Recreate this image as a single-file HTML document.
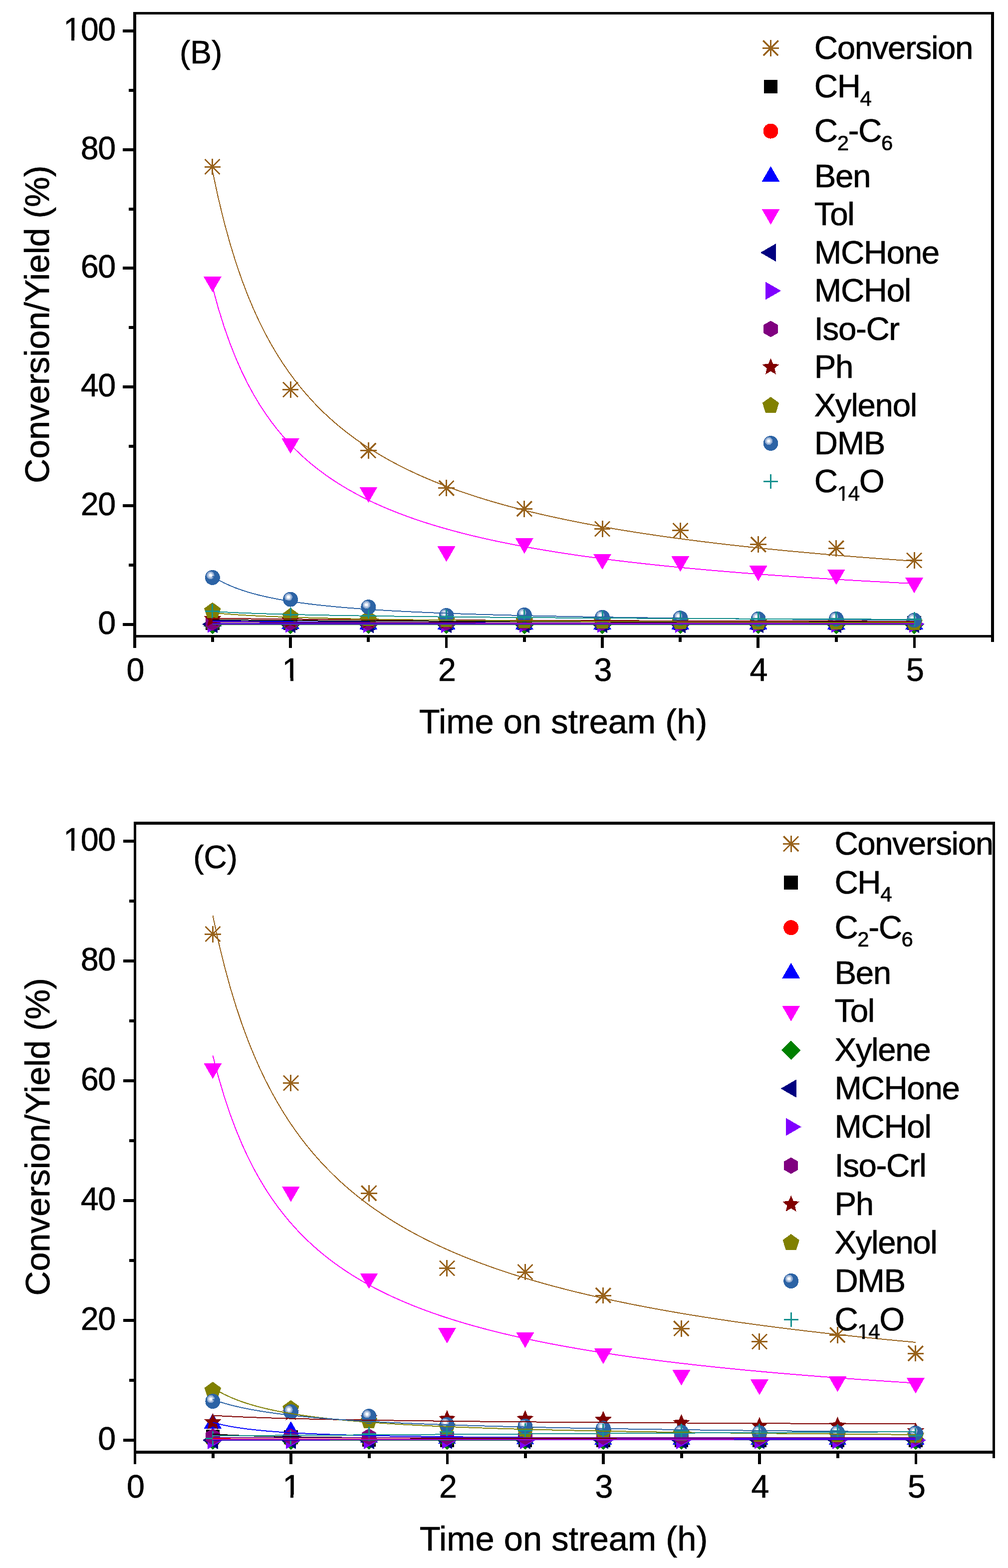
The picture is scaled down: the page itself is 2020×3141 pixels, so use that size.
<!DOCTYPE html>
<html><head><meta charset="utf-8"><style>html,body{margin:0;padding:0;background:#fff;}svg{display:block;}</style></head>
<body>
<svg width="2020" height="3141" viewBox="0 0 2020 3141" shape-rendering="crispEdges" font-family="'Liberation Sans', Arial, sans-serif">
<style>text{stroke:#000;stroke-width:0.7px;stroke-linejoin:miter;}</style>
<rect width="2020" height="3141" fill="#fff"/>
<g>
<path d="M409.55 334.00H442.15M425.85 317.70V350.30M410.85 319.00L440.85 349.00M410.85 349.00L440.85 319.00" stroke="#98621B" stroke-width="3" fill="none"/>
<path d="M565.80 780.50H598.40M582.10 764.20V796.80M567.10 765.50L597.10 795.50M567.10 795.50L597.10 765.50" stroke="#98621B" stroke-width="3" fill="none"/>
<path d="M722.05 902.60H754.65M738.35 886.30V918.90M723.35 887.60L753.35 917.60M723.35 917.60L753.35 887.60" stroke="#98621B" stroke-width="3" fill="none"/>
<path d="M878.30 977.70H910.90M894.60 961.40V994.00M879.60 962.70L909.60 992.70M879.60 992.70L909.60 962.70" stroke="#98621B" stroke-width="3" fill="none"/>
<path d="M1034.55 1019.20H1067.15M1050.85 1002.90V1035.50M1035.85 1004.20L1065.85 1034.20M1035.85 1034.20L1065.85 1004.20" stroke="#98621B" stroke-width="3" fill="none"/>
<path d="M1190.80 1059.50H1223.40M1207.10 1043.20V1075.80M1192.10 1044.50L1222.10 1074.50M1192.10 1074.50L1222.10 1044.50" stroke="#98621B" stroke-width="3" fill="none"/>
<path d="M1347.05 1062.90H1379.65M1363.35 1046.60V1079.20M1348.35 1047.90L1378.35 1077.90M1348.35 1077.90L1378.35 1047.90" stroke="#98621B" stroke-width="3" fill="none"/>
<path d="M1503.30 1090.60H1535.90M1519.60 1074.30V1106.90M1504.60 1075.60L1534.60 1105.60M1504.60 1105.60L1534.60 1075.60" stroke="#98621B" stroke-width="3" fill="none"/>
<path d="M1659.55 1098.20H1692.15M1675.85 1081.90V1114.50M1660.85 1083.20L1690.85 1113.20M1660.85 1113.20L1690.85 1083.20" stroke="#98621B" stroke-width="3" fill="none"/>
<path d="M1815.80 1122.70H1848.40M1832.10 1106.40V1139.00M1817.10 1107.70L1847.10 1137.70M1817.10 1137.70L1847.10 1107.70" stroke="#98621B" stroke-width="3" fill="none"/>
<rect x="412.05" y="1234.20" width="27.6" height="27.6" fill="#000000"/>
<rect x="568.30" y="1234.20" width="27.6" height="27.6" fill="#000000"/>
<rect x="724.55" y="1234.20" width="27.6" height="27.6" fill="#000000"/>
<rect x="880.80" y="1234.20" width="27.6" height="27.6" fill="#000000"/>
<rect x="1037.05" y="1234.20" width="27.6" height="27.6" fill="#000000"/>
<rect x="1193.30" y="1234.20" width="27.6" height="27.6" fill="#000000"/>
<rect x="1349.55" y="1234.20" width="27.6" height="27.6" fill="#000000"/>
<rect x="1505.80" y="1234.20" width="27.6" height="27.6" fill="#000000"/>
<rect x="1662.05" y="1234.20" width="27.6" height="27.6" fill="#000000"/>
<rect x="1818.30" y="1234.20" width="27.6" height="27.6" fill="#000000"/>
<circle cx="425.85" cy="1250.00" r="15" fill="#FF0000"/>
<circle cx="582.10" cy="1250.00" r="15" fill="#FF0000"/>
<circle cx="738.35" cy="1250.00" r="15" fill="#FF0000"/>
<circle cx="894.60" cy="1250.00" r="15" fill="#FF0000"/>
<circle cx="1050.85" cy="1250.00" r="15" fill="#FF0000"/>
<circle cx="1207.10" cy="1250.00" r="15" fill="#FF0000"/>
<circle cx="1363.35" cy="1250.00" r="15" fill="#FF0000"/>
<circle cx="1519.60" cy="1250.00" r="15" fill="#FF0000"/>
<circle cx="1675.85" cy="1250.00" r="15" fill="#FF0000"/>
<circle cx="1832.10" cy="1250.00" r="15" fill="#FF0000"/>
<polygon points="425.85,1223.70 443.78,1254.75 407.92,1254.75" fill="#0000FF"/>
<polygon points="582.10,1228.80 600.03,1259.85 564.17,1259.85" fill="#0000FF"/>
<polygon points="738.35,1229.80 756.28,1260.85 720.42,1260.85" fill="#0000FF"/>
<polygon points="894.60,1229.80 912.53,1260.85 876.67,1260.85" fill="#0000FF"/>
<polygon points="1050.85,1229.80 1068.78,1260.85 1032.92,1260.85" fill="#0000FF"/>
<polygon points="1207.10,1229.80 1225.03,1260.85 1189.17,1260.85" fill="#0000FF"/>
<polygon points="1363.35,1229.80 1381.28,1260.85 1345.42,1260.85" fill="#0000FF"/>
<polygon points="1519.60,1229.80 1537.53,1260.85 1501.67,1260.85" fill="#0000FF"/>
<polygon points="1675.85,1229.80 1693.78,1260.85 1657.92,1260.85" fill="#0000FF"/>
<polygon points="1832.10,1229.80 1850.03,1260.85 1814.17,1260.85" fill="#0000FF"/>
<polygon points="425.85,585.20 407.92,554.15 443.78,554.15" fill="#FF00FF"/>
<polygon points="582.10,908.90 564.17,877.85 600.03,877.85" fill="#FF00FF"/>
<polygon points="738.35,1006.80 720.42,975.75 756.28,975.75" fill="#FF00FF"/>
<polygon points="894.60,1125.50 876.67,1094.45 912.53,1094.45" fill="#FF00FF"/>
<polygon points="1050.85,1109.20 1032.92,1078.15 1068.78,1078.15" fill="#FF00FF"/>
<polygon points="1207.10,1141.10 1189.17,1110.05 1225.03,1110.05" fill="#FF00FF"/>
<polygon points="1363.35,1145.30 1345.42,1114.25 1381.28,1114.25" fill="#FF00FF"/>
<polygon points="1519.60,1164.20 1501.67,1133.15 1537.53,1133.15" fill="#FF00FF"/>
<polygon points="1675.85,1171.60 1657.92,1140.55 1693.78,1140.55" fill="#FF00FF"/>
<polygon points="1832.10,1188.40 1814.17,1157.35 1850.03,1157.35" fill="#FF00FF"/>
<polygon points="425.85,1231.70 445.15,1251.00 425.85,1270.30 406.55,1251.00" fill="#008000"/>
<polygon points="582.10,1231.70 601.40,1251.00 582.10,1270.30 562.80,1251.00" fill="#008000"/>
<polygon points="738.35,1231.70 757.65,1251.00 738.35,1270.30 719.05,1251.00" fill="#008000"/>
<polygon points="894.60,1231.70 913.90,1251.00 894.60,1270.30 875.30,1251.00" fill="#008000"/>
<polygon points="1050.85,1231.70 1070.15,1251.00 1050.85,1270.30 1031.55,1251.00" fill="#008000"/>
<polygon points="1207.10,1231.70 1226.40,1251.00 1207.10,1270.30 1187.80,1251.00" fill="#008000"/>
<polygon points="1363.35,1231.70 1382.65,1251.00 1363.35,1270.30 1344.05,1251.00" fill="#008000"/>
<polygon points="1519.60,1231.70 1538.90,1251.00 1519.60,1270.30 1500.30,1251.00" fill="#008000"/>
<polygon points="1675.85,1231.70 1695.15,1251.00 1675.85,1270.30 1656.55,1251.00" fill="#008000"/>
<polygon points="1832.10,1231.70 1851.40,1251.00 1832.10,1270.30 1812.80,1251.00" fill="#008000"/>
<polygon points="405.15,1250.30 436.20,1232.37 436.20,1268.23" fill="#000080"/>
<polygon points="561.40,1250.30 592.45,1232.37 592.45,1268.23" fill="#000080"/>
<polygon points="717.65,1250.30 748.70,1232.37 748.70,1268.23" fill="#000080"/>
<polygon points="873.90,1250.30 904.95,1232.37 904.95,1268.23" fill="#000080"/>
<polygon points="1030.15,1250.30 1061.20,1232.37 1061.20,1268.23" fill="#000080"/>
<polygon points="1186.40,1250.30 1217.45,1232.37 1217.45,1268.23" fill="#000080"/>
<polygon points="1342.65,1250.30 1373.70,1232.37 1373.70,1268.23" fill="#000080"/>
<polygon points="1498.90,1250.30 1529.95,1232.37 1529.95,1268.23" fill="#000080"/>
<polygon points="1655.15,1250.30 1686.20,1232.37 1686.20,1268.23" fill="#000080"/>
<polygon points="1811.40,1250.30 1842.45,1232.37 1842.45,1268.23" fill="#000080"/>
<polygon points="446.55,1250.00 415.50,1267.93 415.50,1232.07" fill="#8000FF"/>
<polygon points="602.80,1250.00 571.75,1267.93 571.75,1232.07" fill="#8000FF"/>
<polygon points="759.05,1250.00 728.00,1267.93 728.00,1232.07" fill="#8000FF"/>
<polygon points="915.30,1250.00 884.25,1267.93 884.25,1232.07" fill="#8000FF"/>
<polygon points="1071.55,1250.00 1040.50,1267.93 1040.50,1232.07" fill="#8000FF"/>
<polygon points="1227.80,1250.00 1196.75,1267.93 1196.75,1232.07" fill="#8000FF"/>
<polygon points="1384.05,1250.00 1353.00,1267.93 1353.00,1232.07" fill="#8000FF"/>
<polygon points="1540.30,1250.00 1509.25,1267.93 1509.25,1232.07" fill="#8000FF"/>
<polygon points="1696.55,1250.00 1665.50,1267.93 1665.50,1232.07" fill="#8000FF"/>
<polygon points="1852.80,1250.00 1821.75,1267.93 1821.75,1232.07" fill="#8000FF"/>
<polygon points="425.85,1230.50 440.14,1238.75 440.14,1255.25 425.85,1263.50 411.56,1255.25 411.56,1238.75" fill="#800080"/>
<polygon points="582.10,1230.50 596.39,1238.75 596.39,1255.25 582.10,1263.50 567.81,1255.25 567.81,1238.75" fill="#800080"/>
<polygon points="738.35,1230.50 752.64,1238.75 752.64,1255.25 738.35,1263.50 724.06,1255.25 724.06,1238.75" fill="#800080"/>
<polygon points="894.60,1230.50 908.89,1238.75 908.89,1255.25 894.60,1263.50 880.31,1255.25 880.31,1238.75" fill="#800080"/>
<polygon points="1050.85,1230.50 1065.14,1238.75 1065.14,1255.25 1050.85,1263.50 1036.56,1255.25 1036.56,1238.75" fill="#800080"/>
<polygon points="1207.10,1230.50 1221.39,1238.75 1221.39,1255.25 1207.10,1263.50 1192.81,1255.25 1192.81,1238.75" fill="#800080"/>
<polygon points="1363.35,1230.50 1377.64,1238.75 1377.64,1255.25 1363.35,1263.50 1349.06,1255.25 1349.06,1238.75" fill="#800080"/>
<polygon points="1519.60,1230.50 1533.89,1238.75 1533.89,1255.25 1519.60,1263.50 1505.31,1255.25 1505.31,1238.75" fill="#800080"/>
<polygon points="1675.85,1230.50 1690.14,1238.75 1690.14,1255.25 1675.85,1263.50 1661.56,1255.25 1661.56,1238.75" fill="#800080"/>
<polygon points="1832.10,1230.50 1846.39,1238.75 1846.39,1255.25 1832.10,1263.50 1817.81,1255.25 1817.81,1238.75" fill="#800080"/>
<polygon points="425.85,1222.10 430.69,1233.34 442.87,1234.47 433.68,1242.54 436.37,1254.48 425.85,1248.23 415.33,1254.48 418.02,1242.54 408.83,1234.47 421.01,1233.34" fill="#800000"/>
<polygon points="582.10,1225.10 586.94,1236.34 599.12,1237.47 589.93,1245.54 592.62,1257.48 582.10,1251.23 571.58,1257.48 574.27,1245.54 565.08,1237.47 577.26,1236.34" fill="#800000"/>
<polygon points="738.35,1226.10 743.19,1237.34 755.37,1238.47 746.18,1246.54 748.87,1258.48 738.35,1252.23 727.83,1258.48 730.52,1246.54 721.33,1238.47 733.51,1237.34" fill="#800000"/>
<polygon points="894.60,1227.10 899.44,1238.34 911.62,1239.47 902.43,1247.54 905.12,1259.48 894.60,1253.23 884.08,1259.48 886.77,1247.54 877.58,1239.47 889.76,1238.34" fill="#800000"/>
<polygon points="1050.85,1228.10 1055.69,1239.34 1067.87,1240.47 1058.68,1248.54 1061.37,1260.48 1050.85,1254.23 1040.33,1260.48 1043.02,1248.54 1033.83,1240.47 1046.01,1239.34" fill="#800000"/>
<polygon points="1207.10,1228.10 1211.94,1239.34 1224.12,1240.47 1214.93,1248.54 1217.62,1260.48 1207.10,1254.23 1196.58,1260.48 1199.27,1248.54 1190.08,1240.47 1202.26,1239.34" fill="#800000"/>
<polygon points="1363.35,1228.60 1368.19,1239.84 1380.37,1240.97 1371.18,1249.04 1373.87,1260.98 1363.35,1254.73 1352.83,1260.98 1355.52,1249.04 1346.33,1240.97 1358.51,1239.84" fill="#800000"/>
<polygon points="1519.60,1229.10 1524.44,1240.34 1536.62,1241.47 1527.43,1249.54 1530.12,1261.48 1519.60,1255.23 1509.08,1261.48 1511.77,1249.54 1502.58,1241.47 1514.76,1240.34" fill="#800000"/>
<polygon points="1675.85,1229.10 1680.69,1240.34 1692.87,1241.47 1683.68,1249.54 1686.37,1261.48 1675.85,1255.23 1665.33,1261.48 1668.02,1249.54 1658.83,1241.47 1671.01,1240.34" fill="#800000"/>
<polygon points="1832.10,1229.60 1836.94,1240.84 1849.12,1241.97 1839.93,1250.04 1842.62,1261.98 1832.10,1255.73 1821.58,1261.98 1824.27,1250.04 1815.08,1241.97 1827.26,1240.84" fill="#800000"/>
<polygon points="425.85,1206.60 442.59,1218.76 436.20,1238.44 415.50,1238.44 409.11,1218.76" fill="#808000"/>
<polygon points="582.10,1217.60 598.84,1229.76 592.45,1249.44 571.75,1249.44 565.36,1229.76" fill="#808000"/>
<polygon points="738.35,1222.40 755.09,1234.56 748.70,1254.24 728.00,1254.24 721.61,1234.56" fill="#808000"/>
<polygon points="894.60,1224.40 911.34,1236.56 904.95,1256.24 884.25,1256.24 877.86,1236.56" fill="#808000"/>
<polygon points="1050.85,1226.40 1067.59,1238.56 1061.20,1258.24 1040.50,1258.24 1034.11,1238.56" fill="#808000"/>
<polygon points="1207.10,1227.40 1223.84,1239.56 1217.45,1259.24 1196.75,1259.24 1190.36,1239.56" fill="#808000"/>
<polygon points="1363.35,1228.40 1380.09,1240.56 1373.70,1260.24 1353.00,1260.24 1346.61,1240.56" fill="#808000"/>
<polygon points="1519.60,1228.90 1536.34,1241.06 1529.95,1260.74 1509.25,1260.74 1502.86,1241.06" fill="#808000"/>
<polygon points="1675.85,1229.40 1692.59,1241.56 1686.20,1261.24 1665.50,1261.24 1659.11,1241.56" fill="#808000"/>
<polygon points="1832.10,1229.90 1848.84,1242.06 1842.45,1261.74 1821.75,1261.74 1815.36,1242.06" fill="#808000"/>
<circle cx="425.85" cy="1156.90" r="15" fill="#2C63A5"/><circle cx="421.85" cy="1152.40" r="7.8" fill="#8FA9D0"/><circle cx="421.85" cy="1152.40" r="5.3" fill="#C3D2E7"/><circle cx="421.85" cy="1152.40" r="3" fill="#FAFCFE"/>
<circle cx="582.10" cy="1200.60" r="15" fill="#2C63A5"/><circle cx="578.10" cy="1196.10" r="7.8" fill="#8FA9D0"/><circle cx="578.10" cy="1196.10" r="5.3" fill="#C3D2E7"/><circle cx="578.10" cy="1196.10" r="3" fill="#FAFCFE"/>
<circle cx="738.35" cy="1216.00" r="15" fill="#2C63A5"/><circle cx="734.35" cy="1211.50" r="7.8" fill="#8FA9D0"/><circle cx="734.35" cy="1211.50" r="5.3" fill="#C3D2E7"/><circle cx="734.35" cy="1211.50" r="3" fill="#FAFCFE"/>
<circle cx="894.60" cy="1233.00" r="15" fill="#2C63A5"/><circle cx="890.60" cy="1228.50" r="7.8" fill="#8FA9D0"/><circle cx="890.60" cy="1228.50" r="5.3" fill="#C3D2E7"/><circle cx="890.60" cy="1228.50" r="3" fill="#FAFCFE"/>
<circle cx="1050.85" cy="1232.00" r="15" fill="#2C63A5"/><circle cx="1046.85" cy="1227.50" r="7.8" fill="#8FA9D0"/><circle cx="1046.85" cy="1227.50" r="5.3" fill="#C3D2E7"/><circle cx="1046.85" cy="1227.50" r="3" fill="#FAFCFE"/>
<circle cx="1207.10" cy="1236.80" r="15" fill="#2C63A5"/><circle cx="1203.10" cy="1232.30" r="7.8" fill="#8FA9D0"/><circle cx="1203.10" cy="1232.30" r="5.3" fill="#C3D2E7"/><circle cx="1203.10" cy="1232.30" r="3" fill="#FAFCFE"/>
<circle cx="1363.35" cy="1238.20" r="15" fill="#2C63A5"/><circle cx="1359.35" cy="1233.70" r="7.8" fill="#8FA9D0"/><circle cx="1359.35" cy="1233.70" r="5.3" fill="#C3D2E7"/><circle cx="1359.35" cy="1233.70" r="3" fill="#FAFCFE"/>
<circle cx="1519.60" cy="1239.90" r="15" fill="#2C63A5"/><circle cx="1515.60" cy="1235.40" r="7.8" fill="#8FA9D0"/><circle cx="1515.60" cy="1235.40" r="5.3" fill="#C3D2E7"/><circle cx="1515.60" cy="1235.40" r="3" fill="#FAFCFE"/>
<circle cx="1675.85" cy="1239.90" r="15" fill="#2C63A5"/><circle cx="1671.85" cy="1235.40" r="7.8" fill="#8FA9D0"/><circle cx="1671.85" cy="1235.40" r="5.3" fill="#C3D2E7"/><circle cx="1671.85" cy="1235.40" r="3" fill="#FAFCFE"/>
<circle cx="1832.10" cy="1242.50" r="15" fill="#2C63A5"/><circle cx="1828.10" cy="1238.00" r="7.8" fill="#8FA9D0"/><circle cx="1828.10" cy="1238.00" r="5.3" fill="#C3D2E7"/><circle cx="1828.10" cy="1238.00" r="3" fill="#FAFCFE"/>
<path d="M411.35 1224.50H440.35M425.85 1210.00V1239.00" stroke="#16918F" stroke-width="3" fill="none"/>
<path d="M567.60 1231.30H596.60M582.10 1216.80V1245.80" stroke="#16918F" stroke-width="3" fill="none"/>
<path d="M723.85 1233.50H752.85M738.35 1219.00V1248.00" stroke="#16918F" stroke-width="3" fill="none"/>
<path d="M880.10 1235.00H909.10M894.60 1220.50V1249.50" stroke="#16918F" stroke-width="3" fill="none"/>
<path d="M1036.35 1235.50H1065.35M1050.85 1221.00V1250.00" stroke="#16918F" stroke-width="3" fill="none"/>
<path d="M1192.60 1237.00H1221.60M1207.10 1222.50V1251.50" stroke="#16918F" stroke-width="3" fill="none"/>
<path d="M1348.85 1238.00H1377.85M1363.35 1223.50V1252.50" stroke="#16918F" stroke-width="3" fill="none"/>
<path d="M1505.10 1239.00H1534.10M1519.60 1224.50V1253.50" stroke="#16918F" stroke-width="3" fill="none"/>
<path d="M1661.35 1239.50H1690.35M1675.85 1225.00V1254.00" stroke="#16918F" stroke-width="3" fill="none"/>
<path d="M1817.60 1240.00H1846.60M1832.10 1225.50V1254.50" stroke="#16918F" stroke-width="3" fill="none"/>
<g fill="none" stroke-width="2.0" stroke-linejoin="round" stroke-linecap="butt" shape-rendering="crispEdges">
<path d="M425.85 342.59 L437.57 397.30 L449.29 445.34 L461.01 487.89 L472.73 525.85 L484.44 559.94 L496.16 590.73 L507.88 618.70 L519.60 644.22 L531.32 667.60 L543.04 689.12 L554.76 708.98 L566.48 727.39 L578.19 744.48 L589.91 760.41 L601.63 775.29 L613.35 789.23 L625.07 802.31 L636.79 814.61 L648.51 826.20 L660.23 837.14 L671.94 847.49 L683.66 857.29 L695.38 866.58 L707.10 875.42 L718.82 883.82 L730.54 891.83 L742.26 899.46 L753.98 906.75 L765.69 913.72 L777.41 920.40 L789.13 926.79 L800.85 932.91 L812.57 938.79 L824.29 944.44 L836.01 949.87 L847.73 955.10 L859.44 960.13 L871.16 964.98 L882.88 969.66 L894.60 974.17 L906.32 978.53 L918.04 982.74 L929.76 986.82 L941.48 990.76 L953.19 994.57 L964.91 998.27 L976.63 1001.85 L988.35 1005.32 L1000.07 1008.69 L1011.79 1011.96 L1023.51 1015.13 L1035.22 1018.21 L1046.94 1021.21 L1058.66 1024.13 L1070.38 1026.96 L1082.10 1029.72 L1093.82 1032.41 L1105.54 1035.02 L1117.26 1037.57 L1128.97 1040.05 L1140.69 1042.47 L1152.41 1044.83 L1164.13 1047.14 L1175.85 1049.39 L1187.57 1051.58 L1199.29 1053.72 L1211.01 1055.82 L1222.72 1057.86 L1234.44 1059.86 L1246.16 1061.82 L1257.88 1063.73 L1269.60 1065.60 L1281.32 1067.43 L1293.04 1069.22 L1304.76 1070.97 L1316.47 1072.69 L1328.19 1074.37 L1339.91 1076.01 L1351.63 1077.63 L1363.35 1079.21 L1375.07 1080.76 L1386.79 1082.28 L1398.51 1083.77 L1410.22 1085.23 L1421.94 1086.66 L1433.66 1088.07 L1445.38 1089.45 L1457.10 1090.81 L1468.82 1092.14 L1480.54 1093.44 L1492.26 1094.73 L1503.97 1095.99 L1515.69 1097.23 L1527.41 1098.45 L1539.13 1099.64 L1550.85 1100.82 L1562.57 1101.97 L1574.29 1103.11 L1586.01 1104.23 L1597.72 1105.33 L1609.44 1106.41 L1621.16 1107.47 L1632.88 1108.52 L1644.60 1109.55 L1656.32 1110.57 L1668.04 1111.56 L1679.76 1112.55 L1691.47 1113.52 L1703.19 1114.47 L1714.91 1115.41 L1726.63 1116.33 L1738.35 1117.24 L1750.07 1118.14 L1761.79 1119.03 L1773.51 1119.90 L1785.22 1120.76 L1796.94 1121.60 L1808.66 1122.44 L1820.38 1123.26 L1832.10 1124.07" stroke="#98621B"/>
<path d="M425.85 1241.71 L437.57 1241.86 L449.29 1242.00 L461.01 1242.14 L472.73 1242.26 L484.44 1242.38 L496.16 1242.49 L507.88 1242.60 L519.60 1242.70 L531.32 1242.80 L543.04 1242.89 L554.76 1242.98 L566.48 1243.06 L578.19 1243.14 L589.91 1243.22 L601.63 1243.30 L613.35 1243.37 L625.07 1243.44 L636.79 1243.51 L648.51 1243.57 L660.23 1243.64 L671.94 1243.70 L683.66 1243.76 L695.38 1243.82 L707.10 1243.88 L718.82 1243.93 L730.54 1243.99 L742.26 1244.04 L753.98 1244.09 L765.69 1244.14 L777.41 1244.19 L789.13 1244.24 L800.85 1244.28 L812.57 1244.33 L824.29 1244.37 L836.01 1244.42 L847.73 1244.46 L859.44 1244.50 L871.16 1244.54 L882.88 1244.59 L894.60 1244.63 L906.32 1244.66 L918.04 1244.70 L929.76 1244.74 L941.48 1244.78 L953.19 1244.81 L964.91 1244.85 L976.63 1244.88 L988.35 1244.92 L1000.07 1244.95 L1011.79 1244.99 L1023.51 1245.02 L1035.22 1245.05 L1046.94 1245.08 L1058.66 1245.12 L1070.38 1245.15 L1082.10 1245.18 L1093.82 1245.21 L1105.54 1245.24 L1117.26 1245.27 L1128.97 1245.29 L1140.69 1245.32 L1152.41 1245.35 L1164.13 1245.38 L1175.85 1245.41 L1187.57 1245.43 L1199.29 1245.46 L1211.01 1245.49 L1222.72 1245.51 L1234.44 1245.54 L1246.16 1245.56 L1257.88 1245.59 L1269.60 1245.61 L1281.32 1245.64 L1293.04 1245.66 L1304.76 1245.69 L1316.47 1245.71 L1328.19 1245.73 L1339.91 1245.76 L1351.63 1245.78 L1363.35 1245.80 L1375.07 1245.82 L1386.79 1245.85 L1398.51 1245.87 L1410.22 1245.89 L1421.94 1245.91 L1433.66 1245.93 L1445.38 1245.95 L1457.10 1245.97 L1468.82 1245.99 L1480.54 1246.01 L1492.26 1246.04 L1503.97 1246.06 L1515.69 1246.07 L1527.41 1246.09 L1539.13 1246.11 L1550.85 1246.13 L1562.57 1246.15 L1574.29 1246.17 L1586.01 1246.19 L1597.72 1246.21 L1609.44 1246.23 L1621.16 1246.25 L1632.88 1246.26 L1644.60 1246.28 L1656.32 1246.30 L1668.04 1246.32 L1679.76 1246.33 L1691.47 1246.35 L1703.19 1246.37 L1714.91 1246.39 L1726.63 1246.40 L1738.35 1246.42 L1750.07 1246.44 L1761.79 1246.45 L1773.51 1246.47 L1785.22 1246.49 L1796.94 1246.50 L1808.66 1246.52 L1820.38 1246.53 L1832.10 1246.55" stroke="#000000"/>
<path d="M425.85 1250.10 L437.57 1250.09 L449.29 1250.09 L461.01 1250.09 L472.73 1250.09 L484.44 1250.09 L496.16 1250.09 L507.88 1250.09 L519.60 1250.09 L531.32 1250.09 L543.04 1250.09 L554.76 1250.09 L566.48 1250.08 L578.19 1250.08 L589.91 1250.08 L601.63 1250.08 L613.35 1250.08 L625.07 1250.08 L636.79 1250.08 L648.51 1250.08 L660.23 1250.08 L671.94 1250.08 L683.66 1250.08 L695.38 1250.08 L707.10 1250.08 L718.82 1250.08 L730.54 1250.08 L742.26 1250.08 L753.98 1250.08 L765.69 1250.08 L777.41 1250.08 L789.13 1250.08 L800.85 1250.08 L812.57 1250.08 L824.29 1250.07 L836.01 1250.07 L847.73 1250.07 L859.44 1250.07 L871.16 1250.07 L882.88 1250.07 L894.60 1250.07 L906.32 1250.07 L918.04 1250.07 L929.76 1250.07 L941.48 1250.07 L953.19 1250.07 L964.91 1250.07 L976.63 1250.07 L988.35 1250.07 L1000.07 1250.07 L1011.79 1250.07 L1023.51 1250.07 L1035.22 1250.07 L1046.94 1250.07 L1058.66 1250.07 L1070.38 1250.07 L1082.10 1250.07 L1093.82 1250.07 L1105.54 1250.07 L1117.26 1250.07 L1128.97 1250.07 L1140.69 1250.07 L1152.41 1250.07 L1164.13 1250.07 L1175.85 1250.07 L1187.57 1250.07 L1199.29 1250.07 L1211.01 1250.07 L1222.72 1250.07 L1234.44 1250.07 L1246.16 1250.07 L1257.88 1250.07 L1269.60 1250.07 L1281.32 1250.06 L1293.04 1250.06 L1304.76 1250.06 L1316.47 1250.06 L1328.19 1250.06 L1339.91 1250.06 L1351.63 1250.06 L1363.35 1250.06 L1375.07 1250.06 L1386.79 1250.06 L1398.51 1250.06 L1410.22 1250.06 L1421.94 1250.06 L1433.66 1250.06 L1445.38 1250.06 L1457.10 1250.06 L1468.82 1250.06 L1480.54 1250.06 L1492.26 1250.06 L1503.97 1250.06 L1515.69 1250.06 L1527.41 1250.06 L1539.13 1250.06 L1550.85 1250.06 L1562.57 1250.06 L1574.29 1250.06 L1586.01 1250.06 L1597.72 1250.06 L1609.44 1250.06 L1621.16 1250.06 L1632.88 1250.06 L1644.60 1250.06 L1656.32 1250.06 L1668.04 1250.06 L1679.76 1250.06 L1691.47 1250.06 L1703.19 1250.06 L1714.91 1250.06 L1726.63 1250.06 L1738.35 1250.06 L1750.07 1250.06 L1761.79 1250.06 L1773.51 1250.06 L1785.22 1250.06 L1796.94 1250.06 L1808.66 1250.06 L1820.38 1250.06 L1832.10 1250.06" stroke="#FF0000"/>
<path d="M425.85 1243.72 L437.57 1243.90 L449.29 1244.07 L461.01 1244.23 L472.73 1244.38 L484.44 1244.52 L496.16 1244.65 L507.88 1244.78 L519.60 1244.90 L531.32 1245.02 L543.04 1245.13 L554.76 1245.23 L566.48 1245.34 L578.19 1245.43 L589.91 1245.53 L601.63 1245.62 L613.35 1245.71 L625.07 1245.79 L636.79 1245.87 L648.51 1245.95 L660.23 1246.03 L671.94 1246.10 L683.66 1246.17 L695.38 1246.24 L707.10 1246.31 L718.82 1246.38 L730.54 1246.44 L742.26 1246.51 L753.98 1246.57 L765.69 1246.63 L777.41 1246.69 L789.13 1246.75 L800.85 1246.80 L812.57 1246.86 L824.29 1246.91 L836.01 1246.96 L847.73 1247.02 L859.44 1247.07 L871.16 1247.12 L882.88 1247.16 L894.60 1247.21 L906.32 1247.26 L918.04 1247.30 L929.76 1247.35 L941.48 1247.39 L953.19 1247.44 L964.91 1247.48 L976.63 1247.52 L988.35 1247.56 L1000.07 1247.60 L1011.79 1247.64 L1023.51 1247.68 L1035.22 1247.72 L1046.94 1247.76 L1058.66 1247.80 L1070.38 1247.84 L1082.10 1247.87 L1093.82 1247.91 L1105.54 1247.94 L1117.26 1247.98 L1128.97 1248.01 L1140.69 1248.05 L1152.41 1248.08 L1164.13 1248.12 L1175.85 1248.15 L1187.57 1248.18 L1199.29 1248.21 L1211.01 1248.24 L1222.72 1248.27 L1234.44 1248.31 L1246.16 1248.34 L1257.88 1248.37 L1269.60 1248.40 L1281.32 1248.43 L1293.04 1248.45 L1304.76 1248.48 L1316.47 1248.51 L1328.19 1248.54 L1339.91 1248.57 L1351.63 1248.59 L1363.35 1248.62 L1375.07 1248.65 L1386.79 1248.67 L1398.51 1248.70 L1410.22 1248.73 L1421.94 1248.75 L1433.66 1248.78 L1445.38 1248.80 L1457.10 1248.83 L1468.82 1248.85 L1480.54 1248.88 L1492.26 1248.90 L1503.97 1248.93 L1515.69 1248.95 L1527.41 1248.97 L1539.13 1249.00 L1550.85 1249.02 L1562.57 1249.04 L1574.29 1249.07 L1586.01 1249.09 L1597.72 1249.11 L1609.44 1249.13 L1621.16 1249.15 L1632.88 1249.18 L1644.60 1249.20 L1656.32 1249.22 L1668.04 1249.24 L1679.76 1249.26 L1691.47 1249.28 L1703.19 1249.30 L1714.91 1249.32 L1726.63 1249.34 L1738.35 1249.36 L1750.07 1249.38 L1761.79 1249.40 L1773.51 1249.42 L1785.22 1249.44 L1796.94 1249.46 L1808.66 1249.48 L1820.38 1249.50 L1832.10 1249.52" stroke="#0000FF"/>
<path d="M425.85 574.73 L437.57 617.62 L449.29 655.17 L461.01 688.34 L472.73 717.85 L484.44 744.30 L496.16 768.14 L507.88 789.75 L519.60 809.42 L531.32 827.42 L543.04 843.95 L554.76 859.18 L566.48 873.27 L578.19 886.33 L589.91 898.49 L601.63 909.83 L613.35 920.44 L625.07 930.38 L636.79 939.71 L648.51 948.50 L660.23 956.78 L671.94 964.60 L683.66 972.00 L695.38 979.02 L707.10 985.67 L718.82 992.00 L730.54 998.02 L742.26 1003.76 L753.98 1009.23 L765.69 1014.45 L777.41 1019.45 L789.13 1024.23 L800.85 1028.81 L812.57 1033.20 L824.29 1037.42 L836.01 1041.47 L847.73 1045.36 L859.44 1049.11 L871.16 1052.72 L882.88 1056.19 L894.60 1059.55 L906.32 1062.78 L918.04 1065.90 L929.76 1068.92 L941.48 1071.84 L953.19 1074.66 L964.91 1077.40 L976.63 1080.04 L988.35 1082.61 L1000.07 1085.09 L1011.79 1087.50 L1023.51 1089.84 L1035.22 1092.11 L1046.94 1094.32 L1058.66 1096.46 L1070.38 1098.55 L1082.10 1100.58 L1093.82 1102.55 L1105.54 1104.47 L1117.26 1106.34 L1128.97 1108.16 L1140.69 1109.93 L1152.41 1111.66 L1164.13 1113.35 L1175.85 1114.99 L1187.57 1116.60 L1199.29 1118.16 L1211.01 1119.69 L1222.72 1121.19 L1234.44 1122.65 L1246.16 1124.07 L1257.88 1125.46 L1269.60 1126.83 L1281.32 1128.16 L1293.04 1129.46 L1304.76 1130.74 L1316.47 1131.99 L1328.19 1133.21 L1339.91 1134.40 L1351.63 1135.58 L1363.35 1136.72 L1375.07 1137.85 L1386.79 1138.95 L1398.51 1140.03 L1410.22 1141.09 L1421.94 1142.13 L1433.66 1143.15 L1445.38 1144.15 L1457.10 1145.13 L1468.82 1146.09 L1480.54 1147.04 L1492.26 1147.97 L1503.97 1148.88 L1515.69 1149.77 L1527.41 1150.65 L1539.13 1151.51 L1550.85 1152.36 L1562.57 1153.20 L1574.29 1154.02 L1586.01 1154.82 L1597.72 1155.61 L1609.44 1156.39 L1621.16 1157.16 L1632.88 1157.91 L1644.60 1158.65 L1656.32 1159.38 L1668.04 1160.10 L1679.76 1160.81 L1691.47 1161.50 L1703.19 1162.19 L1714.91 1162.86 L1726.63 1163.53 L1738.35 1164.18 L1750.07 1164.82 L1761.79 1165.46 L1773.51 1166.08 L1785.22 1166.70 L1796.94 1167.30 L1808.66 1167.90 L1820.38 1168.49 L1832.10 1169.07" stroke="#FF00FF"/>
<path d="M425.85 1251.50 L437.57 1251.49 L449.29 1251.49 L461.01 1251.49 L472.73 1251.49 L484.44 1251.49 L496.16 1251.49 L507.88 1251.49 L519.60 1251.49 L531.32 1251.49 L543.04 1251.49 L554.76 1251.49 L566.48 1251.48 L578.19 1251.48 L589.91 1251.48 L601.63 1251.48 L613.35 1251.48 L625.07 1251.48 L636.79 1251.48 L648.51 1251.48 L660.23 1251.48 L671.94 1251.48 L683.66 1251.48 L695.38 1251.48 L707.10 1251.48 L718.82 1251.48 L730.54 1251.48 L742.26 1251.48 L753.98 1251.48 L765.69 1251.48 L777.41 1251.48 L789.13 1251.48 L800.85 1251.48 L812.57 1251.48 L824.29 1251.47 L836.01 1251.47 L847.73 1251.47 L859.44 1251.47 L871.16 1251.47 L882.88 1251.47 L894.60 1251.47 L906.32 1251.47 L918.04 1251.47 L929.76 1251.47 L941.48 1251.47 L953.19 1251.47 L964.91 1251.47 L976.63 1251.47 L988.35 1251.47 L1000.07 1251.47 L1011.79 1251.47 L1023.51 1251.47 L1035.22 1251.47 L1046.94 1251.47 L1058.66 1251.47 L1070.38 1251.47 L1082.10 1251.47 L1093.82 1251.47 L1105.54 1251.47 L1117.26 1251.47 L1128.97 1251.47 L1140.69 1251.47 L1152.41 1251.47 L1164.13 1251.47 L1175.85 1251.47 L1187.57 1251.47 L1199.29 1251.47 L1211.01 1251.47 L1222.72 1251.47 L1234.44 1251.47 L1246.16 1251.47 L1257.88 1251.47 L1269.60 1251.47 L1281.32 1251.46 L1293.04 1251.46 L1304.76 1251.46 L1316.47 1251.46 L1328.19 1251.46 L1339.91 1251.46 L1351.63 1251.46 L1363.35 1251.46 L1375.07 1251.46 L1386.79 1251.46 L1398.51 1251.46 L1410.22 1251.46 L1421.94 1251.46 L1433.66 1251.46 L1445.38 1251.46 L1457.10 1251.46 L1468.82 1251.46 L1480.54 1251.46 L1492.26 1251.46 L1503.97 1251.46 L1515.69 1251.46 L1527.41 1251.46 L1539.13 1251.46 L1550.85 1251.46 L1562.57 1251.46 L1574.29 1251.46 L1586.01 1251.46 L1597.72 1251.46 L1609.44 1251.46 L1621.16 1251.46 L1632.88 1251.46 L1644.60 1251.46 L1656.32 1251.46 L1668.04 1251.46 L1679.76 1251.46 L1691.47 1251.46 L1703.19 1251.46 L1714.91 1251.46 L1726.63 1251.46 L1738.35 1251.46 L1750.07 1251.46 L1761.79 1251.46 L1773.51 1251.46 L1785.22 1251.46 L1796.94 1251.46 L1808.66 1251.46 L1820.38 1251.46 L1832.10 1251.46" stroke="#008000"/>
<path d="M425.85 1249.33 L437.57 1249.29 L449.29 1249.25 L461.01 1249.21 L472.73 1249.18 L484.44 1249.15 L496.16 1249.12 L507.88 1249.09 L519.60 1249.06 L531.32 1249.04 L543.04 1249.02 L554.76 1249.00 L566.48 1248.98 L578.19 1248.96 L589.91 1248.94 L601.63 1248.92 L613.35 1248.91 L625.07 1248.89 L636.79 1248.88 L648.51 1248.86 L660.23 1248.85 L671.94 1248.84 L683.66 1248.82 L695.38 1248.81 L707.10 1248.80 L718.82 1248.79 L730.54 1248.78 L742.26 1248.77 L753.98 1248.76 L765.69 1248.75 L777.41 1248.74 L789.13 1248.73 L800.85 1248.72 L812.57 1248.71 L824.29 1248.70 L836.01 1248.69 L847.73 1248.69 L859.44 1248.68 L871.16 1248.67 L882.88 1248.66 L894.60 1248.66 L906.32 1248.65 L918.04 1248.64 L929.76 1248.64 L941.48 1248.63 L953.19 1248.62 L964.91 1248.62 L976.63 1248.61 L988.35 1248.61 L1000.07 1248.60 L1011.79 1248.59 L1023.51 1248.59 L1035.22 1248.58 L1046.94 1248.58 L1058.66 1248.57 L1070.38 1248.57 L1082.10 1248.56 L1093.82 1248.56 L1105.54 1248.55 L1117.26 1248.55 L1128.97 1248.54 L1140.69 1248.54 L1152.41 1248.54 L1164.13 1248.53 L1175.85 1248.53 L1187.57 1248.52 L1199.29 1248.52 L1211.01 1248.52 L1222.72 1248.51 L1234.44 1248.51 L1246.16 1248.50 L1257.88 1248.50 L1269.60 1248.50 L1281.32 1248.49 L1293.04 1248.49 L1304.76 1248.49 L1316.47 1248.48 L1328.19 1248.48 L1339.91 1248.48 L1351.63 1248.47 L1363.35 1248.47 L1375.07 1248.47 L1386.79 1248.46 L1398.51 1248.46 L1410.22 1248.46 L1421.94 1248.45 L1433.66 1248.45 L1445.38 1248.45 L1457.10 1248.44 L1468.82 1248.44 L1480.54 1248.44 L1492.26 1248.44 L1503.97 1248.43 L1515.69 1248.43 L1527.41 1248.43 L1539.13 1248.43 L1550.85 1248.42 L1562.57 1248.42 L1574.29 1248.42 L1586.01 1248.41 L1597.72 1248.41 L1609.44 1248.41 L1621.16 1248.41 L1632.88 1248.40 L1644.60 1248.40 L1656.32 1248.40 L1668.04 1248.40 L1679.76 1248.40 L1691.47 1248.39 L1703.19 1248.39 L1714.91 1248.39 L1726.63 1248.39 L1738.35 1248.38 L1750.07 1248.38 L1761.79 1248.38 L1773.51 1248.38 L1785.22 1248.38 L1796.94 1248.37 L1808.66 1248.37 L1820.38 1248.37 L1832.10 1248.37" stroke="#000080"/>
<path d="M425.85 1249.97 L437.57 1249.98 L449.29 1249.99 L461.01 1250.01 L472.73 1250.02 L484.44 1250.03 L496.16 1250.04 L507.88 1250.05 L519.60 1250.06 L531.32 1250.07 L543.04 1250.08 L554.76 1250.09 L566.48 1250.10 L578.19 1250.11 L589.91 1250.11 L601.63 1250.12 L613.35 1250.13 L625.07 1250.14 L636.79 1250.14 L648.51 1250.15 L660.23 1250.16 L671.94 1250.16 L683.66 1250.17 L695.38 1250.17 L707.10 1250.18 L718.82 1250.18 L730.54 1250.19 L742.26 1250.19 L753.98 1250.20 L765.69 1250.20 L777.41 1250.21 L789.13 1250.21 L800.85 1250.22 L812.57 1250.22 L824.29 1250.23 L836.01 1250.23 L847.73 1250.24 L859.44 1250.24 L871.16 1250.24 L882.88 1250.25 L894.60 1250.25 L906.32 1250.26 L918.04 1250.26 L929.76 1250.26 L941.48 1250.27 L953.19 1250.27 L964.91 1250.27 L976.63 1250.28 L988.35 1250.28 L1000.07 1250.28 L1011.79 1250.29 L1023.51 1250.29 L1035.22 1250.29 L1046.94 1250.30 L1058.66 1250.30 L1070.38 1250.30 L1082.10 1250.31 L1093.82 1250.31 L1105.54 1250.31 L1117.26 1250.32 L1128.97 1250.32 L1140.69 1250.32 L1152.41 1250.32 L1164.13 1250.33 L1175.85 1250.33 L1187.57 1250.33 L1199.29 1250.33 L1211.01 1250.34 L1222.72 1250.34 L1234.44 1250.34 L1246.16 1250.34 L1257.88 1250.35 L1269.60 1250.35 L1281.32 1250.35 L1293.04 1250.35 L1304.76 1250.36 L1316.47 1250.36 L1328.19 1250.36 L1339.91 1250.36 L1351.63 1250.37 L1363.35 1250.37 L1375.07 1250.37 L1386.79 1250.37 L1398.51 1250.37 L1410.22 1250.38 L1421.94 1250.38 L1433.66 1250.38 L1445.38 1250.38 L1457.10 1250.39 L1468.82 1250.39 L1480.54 1250.39 L1492.26 1250.39 L1503.97 1250.39 L1515.69 1250.40 L1527.41 1250.40 L1539.13 1250.40 L1550.85 1250.40 L1562.57 1250.40 L1574.29 1250.40 L1586.01 1250.41 L1597.72 1250.41 L1609.44 1250.41 L1621.16 1250.41 L1632.88 1250.41 L1644.60 1250.42 L1656.32 1250.42 L1668.04 1250.42 L1679.76 1250.42 L1691.47 1250.42 L1703.19 1250.42 L1714.91 1250.43 L1726.63 1250.43 L1738.35 1250.43 L1750.07 1250.43 L1761.79 1250.43 L1773.51 1250.43 L1785.22 1250.44 L1796.94 1250.44 L1808.66 1250.44 L1820.38 1250.44 L1832.10 1250.44" stroke="#8000FF"/>
<path d="M425.85 1246.03 L437.57 1246.11 L449.29 1246.17 L461.01 1246.24 L472.73 1246.29 L484.44 1246.35 L496.16 1246.40 L507.88 1246.45 L519.60 1246.50 L531.32 1246.55 L543.04 1246.59 L554.76 1246.63 L566.48 1246.67 L578.19 1246.71 L589.91 1246.75 L601.63 1246.78 L613.35 1246.82 L625.07 1246.85 L636.79 1246.88 L648.51 1246.91 L660.23 1246.94 L671.94 1246.97 L683.66 1247.00 L695.38 1247.03 L707.10 1247.05 L718.82 1247.08 L730.54 1247.11 L742.26 1247.13 L753.98 1247.15 L765.69 1247.18 L777.41 1247.20 L789.13 1247.22 L800.85 1247.25 L812.57 1247.27 L824.29 1247.29 L836.01 1247.31 L847.73 1247.33 L859.44 1247.35 L871.16 1247.37 L882.88 1247.39 L894.60 1247.41 L906.32 1247.43 L918.04 1247.44 L929.76 1247.46 L941.48 1247.48 L953.19 1247.50 L964.91 1247.51 L976.63 1247.53 L988.35 1247.55 L1000.07 1247.56 L1011.79 1247.58 L1023.51 1247.59 L1035.22 1247.61 L1046.94 1247.62 L1058.66 1247.64 L1070.38 1247.65 L1082.10 1247.67 L1093.82 1247.68 L1105.54 1247.70 L1117.26 1247.71 L1128.97 1247.72 L1140.69 1247.74 L1152.41 1247.75 L1164.13 1247.76 L1175.85 1247.78 L1187.57 1247.79 L1199.29 1247.80 L1211.01 1247.81 L1222.72 1247.83 L1234.44 1247.84 L1246.16 1247.85 L1257.88 1247.86 L1269.60 1247.87 L1281.32 1247.88 L1293.04 1247.90 L1304.76 1247.91 L1316.47 1247.92 L1328.19 1247.93 L1339.91 1247.94 L1351.63 1247.95 L1363.35 1247.96 L1375.07 1247.97 L1386.79 1247.98 L1398.51 1247.99 L1410.22 1248.00 L1421.94 1248.01 L1433.66 1248.02 L1445.38 1248.03 L1457.10 1248.04 L1468.82 1248.05 L1480.54 1248.06 L1492.26 1248.07 L1503.97 1248.08 L1515.69 1248.09 L1527.41 1248.10 L1539.13 1248.11 L1550.85 1248.12 L1562.57 1248.13 L1574.29 1248.14 L1586.01 1248.15 L1597.72 1248.15 L1609.44 1248.16 L1621.16 1248.17 L1632.88 1248.18 L1644.60 1248.19 L1656.32 1248.20 L1668.04 1248.20 L1679.76 1248.21 L1691.47 1248.22 L1703.19 1248.23 L1714.91 1248.24 L1726.63 1248.25 L1738.35 1248.25 L1750.07 1248.26 L1761.79 1248.27 L1773.51 1248.28 L1785.22 1248.28 L1796.94 1248.29 L1808.66 1248.30 L1820.38 1248.31 L1832.10 1248.31" stroke="#800080"/>
<path d="M425.85 1238.42 L437.57 1238.61 L449.29 1238.80 L461.01 1238.97 L472.73 1239.13 L484.44 1239.28 L496.16 1239.43 L507.88 1239.56 L519.60 1239.70 L531.32 1239.82 L543.04 1239.94 L554.76 1240.05 L566.48 1240.16 L578.19 1240.27 L589.91 1240.37 L601.63 1240.47 L613.35 1240.56 L625.07 1240.65 L636.79 1240.74 L648.51 1240.83 L660.23 1240.91 L671.94 1240.99 L683.66 1241.07 L695.38 1241.14 L707.10 1241.22 L718.82 1241.29 L730.54 1241.36 L742.26 1241.43 L753.98 1241.50 L765.69 1241.56 L777.41 1241.62 L789.13 1241.69 L800.85 1241.75 L812.57 1241.81 L824.29 1241.86 L836.01 1241.92 L847.73 1241.98 L859.44 1242.03 L871.16 1242.08 L882.88 1242.14 L894.60 1242.19 L906.32 1242.24 L918.04 1242.29 L929.76 1242.34 L941.48 1242.39 L953.19 1242.43 L964.91 1242.48 L976.63 1242.52 L988.35 1242.57 L1000.07 1242.61 L1011.79 1242.66 L1023.51 1242.70 L1035.22 1242.74 L1046.94 1242.78 L1058.66 1242.82 L1070.38 1242.86 L1082.10 1242.90 L1093.82 1242.94 L1105.54 1242.98 L1117.26 1243.02 L1128.97 1243.06 L1140.69 1243.09 L1152.41 1243.13 L1164.13 1243.16 L1175.85 1243.20 L1187.57 1243.23 L1199.29 1243.27 L1211.01 1243.30 L1222.72 1243.34 L1234.44 1243.37 L1246.16 1243.40 L1257.88 1243.44 L1269.60 1243.47 L1281.32 1243.50 L1293.04 1243.53 L1304.76 1243.56 L1316.47 1243.59 L1328.19 1243.62 L1339.91 1243.65 L1351.63 1243.68 L1363.35 1243.71 L1375.07 1243.74 L1386.79 1243.77 L1398.51 1243.80 L1410.22 1243.83 L1421.94 1243.85 L1433.66 1243.88 L1445.38 1243.91 L1457.10 1243.94 L1468.82 1243.96 L1480.54 1243.99 L1492.26 1244.01 L1503.97 1244.04 L1515.69 1244.07 L1527.41 1244.09 L1539.13 1244.12 L1550.85 1244.14 L1562.57 1244.17 L1574.29 1244.19 L1586.01 1244.22 L1597.72 1244.24 L1609.44 1244.26 L1621.16 1244.29 L1632.88 1244.31 L1644.60 1244.33 L1656.32 1244.36 L1668.04 1244.38 L1679.76 1244.40 L1691.47 1244.43 L1703.19 1244.45 L1714.91 1244.47 L1726.63 1244.49 L1738.35 1244.51 L1750.07 1244.54 L1761.79 1244.56 L1773.51 1244.58 L1785.22 1244.60 L1796.94 1244.62 L1808.66 1244.64 L1820.38 1244.66 L1832.10 1244.68" stroke="#800000"/>
<path d="M425.85 1227.34 L437.57 1228.48 L449.29 1229.50 L461.01 1230.41 L472.73 1231.24 L484.44 1231.99 L496.16 1232.68 L507.88 1233.31 L519.60 1233.90 L531.32 1234.44 L543.04 1234.95 L554.76 1235.42 L566.48 1235.86 L578.19 1236.27 L589.91 1236.66 L601.63 1237.03 L613.35 1237.37 L625.07 1237.70 L636.79 1238.01 L648.51 1238.31 L660.23 1238.59 L671.94 1238.85 L683.66 1239.11 L695.38 1239.35 L707.10 1239.58 L718.82 1239.81 L730.54 1240.02 L742.26 1240.23 L753.98 1240.42 L765.69 1240.61 L777.41 1240.80 L789.13 1240.97 L800.85 1241.14 L812.57 1241.30 L824.29 1241.46 L836.01 1241.61 L847.73 1241.76 L859.44 1241.91 L871.16 1242.04 L882.88 1242.18 L894.60 1242.31 L906.32 1242.43 L918.04 1242.56 L929.76 1242.67 L941.48 1242.79 L953.19 1242.90 L964.91 1243.01 L976.63 1243.12 L988.35 1243.22 L1000.07 1243.32 L1011.79 1243.42 L1023.51 1243.52 L1035.22 1243.61 L1046.94 1243.70 L1058.66 1243.79 L1070.38 1243.88 L1082.10 1243.96 L1093.82 1244.04 L1105.54 1244.12 L1117.26 1244.20 L1128.97 1244.28 L1140.69 1244.36 L1152.41 1244.43 L1164.13 1244.50 L1175.85 1244.57 L1187.57 1244.64 L1199.29 1244.71 L1211.01 1244.78 L1222.72 1244.84 L1234.44 1244.91 L1246.16 1244.97 L1257.88 1245.03 L1269.60 1245.09 L1281.32 1245.15 L1293.04 1245.21 L1304.76 1245.27 L1316.47 1245.32 L1328.19 1245.38 L1339.91 1245.43 L1351.63 1245.49 L1363.35 1245.54 L1375.07 1245.59 L1386.79 1245.64 L1398.51 1245.69 L1410.22 1245.74 L1421.94 1245.79 L1433.66 1245.83 L1445.38 1245.88 L1457.10 1245.92 L1468.82 1245.97 L1480.54 1246.01 L1492.26 1246.06 L1503.97 1246.10 L1515.69 1246.14 L1527.41 1246.18 L1539.13 1246.23 L1550.85 1246.27 L1562.57 1246.31 L1574.29 1246.34 L1586.01 1246.38 L1597.72 1246.42 L1609.44 1246.46 L1621.16 1246.50 L1632.88 1246.53 L1644.60 1246.57 L1656.32 1246.60 L1668.04 1246.64 L1679.76 1246.67 L1691.47 1246.71 L1703.19 1246.74 L1714.91 1246.77 L1726.63 1246.81 L1738.35 1246.84 L1750.07 1246.87 L1761.79 1246.90 L1773.51 1246.93 L1785.22 1246.97 L1796.94 1247.00 L1808.66 1247.03 L1820.38 1247.06 L1832.10 1247.08" stroke="#808000"/>
<path d="M425.85 1154.58 L437.57 1161.68 L449.29 1167.82 L461.01 1173.19 L472.73 1177.92 L484.44 1182.12 L496.16 1185.87 L507.88 1189.25 L519.60 1192.29 L531.32 1195.06 L543.04 1197.58 L554.76 1199.89 L566.48 1202.01 L578.19 1203.96 L589.91 1205.77 L601.63 1207.44 L613.35 1209.00 L625.07 1210.45 L636.79 1211.80 L648.51 1213.07 L660.23 1214.26 L671.94 1215.38 L683.66 1216.44 L695.38 1217.43 L707.10 1218.37 L718.82 1219.26 L730.54 1220.10 L742.26 1220.90 L753.98 1221.66 L765.69 1222.38 L777.41 1223.07 L789.13 1223.73 L800.85 1224.35 L812.57 1224.95 L824.29 1225.52 L836.01 1226.07 L847.73 1226.59 L859.44 1227.10 L871.16 1227.58 L882.88 1228.05 L894.60 1228.49 L906.32 1228.92 L918.04 1229.33 L929.76 1229.73 L941.48 1230.11 L953.19 1230.48 L964.91 1230.84 L976.63 1231.19 L988.35 1231.52 L1000.07 1231.84 L1011.79 1232.15 L1023.51 1232.46 L1035.22 1232.75 L1046.94 1233.03 L1058.66 1233.31 L1070.38 1233.57 L1082.10 1233.83 L1093.82 1234.08 L1105.54 1234.33 L1117.26 1234.56 L1128.97 1234.79 L1140.69 1235.02 L1152.41 1235.23 L1164.13 1235.44 L1175.85 1235.65 L1187.57 1235.85 L1199.29 1236.05 L1211.01 1236.24 L1222.72 1236.42 L1234.44 1236.60 L1246.16 1236.78 L1257.88 1236.95 L1269.60 1237.12 L1281.32 1237.28 L1293.04 1237.44 L1304.76 1237.60 L1316.47 1237.75 L1328.19 1237.90 L1339.91 1238.05 L1351.63 1238.19 L1363.35 1238.33 L1375.07 1238.46 L1386.79 1238.60 L1398.51 1238.73 L1410.22 1238.86 L1421.94 1238.98 L1433.66 1239.10 L1445.38 1239.22 L1457.10 1239.34 L1468.82 1239.46 L1480.54 1239.57 L1492.26 1239.68 L1503.97 1239.79 L1515.69 1239.89 L1527.41 1240.00 L1539.13 1240.10 L1550.85 1240.20 L1562.57 1240.30 L1574.29 1240.40 L1586.01 1240.49 L1597.72 1240.58 L1609.44 1240.68 L1621.16 1240.76 L1632.88 1240.85 L1644.60 1240.94 L1656.32 1241.03 L1668.04 1241.11 L1679.76 1241.19 L1691.47 1241.27 L1703.19 1241.35 L1714.91 1241.43 L1726.63 1241.51 L1738.35 1241.58 L1750.07 1241.66 L1761.79 1241.73 L1773.51 1241.80 L1785.22 1241.87 L1796.94 1241.94 L1808.66 1242.01 L1820.38 1242.08 L1832.10 1242.14" stroke="#2C63A5"/>
<path d="M425.85 1224.89 L437.57 1225.57 L449.29 1226.19 L461.01 1226.76 L472.73 1227.28 L484.44 1227.77 L496.16 1228.23 L507.88 1228.65 L519.60 1229.05 L531.32 1229.43 L543.04 1229.78 L554.76 1230.12 L566.48 1230.43 L578.19 1230.74 L589.91 1231.02 L601.63 1231.30 L613.35 1231.56 L625.07 1231.81 L636.79 1232.05 L648.51 1232.28 L660.23 1232.51 L671.94 1232.72 L683.66 1232.92 L695.38 1233.12 L707.10 1233.31 L718.82 1233.50 L730.54 1233.68 L742.26 1233.85 L753.98 1234.02 L765.69 1234.18 L777.41 1234.34 L789.13 1234.49 L800.85 1234.64 L812.57 1234.78 L824.29 1234.92 L836.01 1235.06 L847.73 1235.19 L859.44 1235.32 L871.16 1235.45 L882.88 1235.57 L894.60 1235.69 L906.32 1235.81 L918.04 1235.92 L929.76 1236.04 L941.48 1236.14 L953.19 1236.25 L964.91 1236.36 L976.63 1236.46 L988.35 1236.56 L1000.07 1236.66 L1011.79 1236.75 L1023.51 1236.85 L1035.22 1236.94 L1046.94 1237.03 L1058.66 1237.12 L1070.38 1237.20 L1082.10 1237.29 L1093.82 1237.37 L1105.54 1237.46 L1117.26 1237.54 L1128.97 1237.62 L1140.69 1237.69 L1152.41 1237.77 L1164.13 1237.85 L1175.85 1237.92 L1187.57 1237.99 L1199.29 1238.06 L1211.01 1238.14 L1222.72 1238.20 L1234.44 1238.27 L1246.16 1238.34 L1257.88 1238.41 L1269.60 1238.47 L1281.32 1238.54 L1293.04 1238.60 L1304.76 1238.66 L1316.47 1238.72 L1328.19 1238.78 L1339.91 1238.84 L1351.63 1238.90 L1363.35 1238.96 L1375.07 1239.02 L1386.79 1239.07 L1398.51 1239.13 L1410.22 1239.18 L1421.94 1239.24 L1433.66 1239.29 L1445.38 1239.34 L1457.10 1239.40 L1468.82 1239.45 L1480.54 1239.50 L1492.26 1239.55 L1503.97 1239.60 L1515.69 1239.65 L1527.41 1239.70 L1539.13 1239.74 L1550.85 1239.79 L1562.57 1239.84 L1574.29 1239.88 L1586.01 1239.93 L1597.72 1239.98 L1609.44 1240.02 L1621.16 1240.06 L1632.88 1240.11 L1644.60 1240.15 L1656.32 1240.19 L1668.04 1240.24 L1679.76 1240.28 L1691.47 1240.32 L1703.19 1240.36 L1714.91 1240.40 L1726.63 1240.44 L1738.35 1240.48 L1750.07 1240.52 L1761.79 1240.56 L1773.51 1240.60 L1785.22 1240.63 L1796.94 1240.67 L1808.66 1240.71 L1820.38 1240.75 L1832.10 1240.78" stroke="#16918F"/>
</g></g>
<g fill="#000">
<rect x="267" y="24" width="1725" height="5"/>
<rect x="267" y="1272" width="1725" height="5"/>
<rect x="267" y="24" width="6" height="1274"/>
<rect x="1986" y="24" width="6" height="1262"/>
<rect x="423" y="1277" width="6" height="9"/>
<rect x="579" y="1277" width="6" height="21"/>
<rect x="735" y="1277" width="6" height="9"/>
<rect x="892" y="1277" width="5" height="21"/>
<rect x="1048" y="1277" width="6" height="9"/>
<rect x="1204" y="1277" width="6" height="21"/>
<rect x="1360" y="1277" width="6" height="9"/>
<rect x="1516" y="1277" width="6" height="21"/>
<rect x="1673" y="1277" width="6" height="9"/>
<rect x="1830" y="1277" width="5" height="21"/>
<rect x="246" y="1247.5" width="21" height="6"/>
<rect x="258" y="1129" width="9" height="6"/>
<rect x="246" y="1009.8" width="21" height="6"/>
<rect x="258" y="891" width="9" height="6"/>
<rect x="246" y="772.1" width="21" height="6"/>
<rect x="258" y="653" width="9" height="6"/>
<rect x="246" y="534.4000000000001" width="21" height="6"/>
<rect x="258" y="416" width="9" height="6"/>
<rect x="246" y="296.70000000000005" width="21" height="6"/>
<rect x="258" y="178" width="9" height="6"/>
<rect x="246" y="59.0" width="21" height="6"/>
<text x="271.5" y="1363.5" font-size="64.5" text-anchor="middle" >0</text>
<text x="583.5" y="1363.5" font-size="64.5" text-anchor="middle" >1</text>
<rect x="568" y="1358" width="14" height="8" fill="#fff"/>
<rect x="588" y="1358" width="14" height="8" fill="#fff"/>
<text x="896.0" y="1363.5" font-size="64.5" text-anchor="middle" >2</text>
<text x="1208.5" y="1363.5" font-size="64.5" text-anchor="middle" >3</text>
<text x="1520.5" y="1363.5" font-size="64.5" text-anchor="middle" >4</text>
<text x="1834.0" y="1363.5" font-size="64.5" text-anchor="middle" >5</text>
<text x="231.0" y="1269.5" font-size="64.5" text-anchor="end" letter-spacing="-1.2">0</text>
<text x="231.0" y="1031.8" font-size="64.5" text-anchor="end" letter-spacing="-1.2">20</text>
<text x="231.0" y="794.1" font-size="64.5" text-anchor="end" letter-spacing="-1.2">40</text>
<text x="231.0" y="556.4000000000001" font-size="64.5" text-anchor="end" letter-spacing="-1.2">60</text>
<text x="231.0" y="318.70000000000005" font-size="64.5" text-anchor="end" letter-spacing="-1.2">80</text>
<text x="231.0" y="81.0" font-size="64.5" text-anchor="end" letter-spacing="-1.2">100</text>
<rect x="129" y="75" width="14" height="8" fill="#fff"/>
<rect x="149" y="75" width="13" height="8" fill="#fff"/>
</g>
<text x="1128.5" y="1468.6" font-size="68.7" text-anchor="middle" >Time on stream (h)</text>
<text transform="translate(98.3,649.8) rotate(-90)" font-size="68" text-anchor="middle">Conversion/Yield (%)</text>
<text x="360" y="127" font-size="64" text-anchor="start" >(B)</text>
<path d="M1528.20 96.50H1560.80M1544.50 80.20V112.80M1529.50 81.50L1559.50 111.50M1529.50 111.50L1559.50 81.50" stroke="#98621B" stroke-width="3" fill="none"/>
<text x="1631.8" y="118.0" font-size="65.5" letter-spacing="-1.4">Conversion</text>
<rect x="1530.70" y="159.70" width="27.6" height="27.6" fill="#000000"/>
<text x="1631.8" y="195.0" font-size="65.5" letter-spacing="-1.4">CH<tspan font-size="42" dy="16.6">4</tspan></text>
<circle cx="1544.50" cy="262.60" r="15" fill="#FF0000"/>
<text x="1631.8" y="284.1" font-size="65.5" letter-spacing="-1.4">C<tspan font-size="42" dy="16.6">2</tspan><tspan dy="-16.6">-C</tspan><tspan font-size="42" dy="16.6">6</tspan></text>
<polygon points="1544.50,333.00 1562.43,364.05 1526.57,364.05" fill="#0000FF"/>
<text x="1631.8" y="375.2" font-size="65.5" letter-spacing="-1.4">Ben</text>
<polygon points="1544.50,450.00 1526.57,418.95 1562.43,418.95" fill="#FF00FF"/>
<text x="1631.8" y="450.8" font-size="65.5" letter-spacing="-1.4">Tol</text>
<polygon points="1523.80,506.00 1554.85,488.07 1554.85,523.93" fill="#000080"/>
<text x="1631.8" y="527.5" font-size="65.5" letter-spacing="-1.4">MCHone</text>
<polygon points="1565.20,582.50 1534.15,600.43 1534.15,564.57" fill="#8000FF"/>
<text x="1631.8" y="604.0" font-size="65.5" letter-spacing="-1.4">MCHol</text>
<polygon points="1544.50,642.50 1558.79,650.75 1558.79,667.25 1544.50,675.50 1530.21,667.25 1530.21,650.75" fill="#800080"/>
<text x="1631.8" y="680.5" font-size="65.5" letter-spacing="-1.4">Iso-Cr</text>
<polygon points="1544.50,717.60 1549.34,728.84 1561.52,729.97 1552.33,738.04 1555.02,749.98 1544.50,743.73 1533.98,749.98 1536.67,738.04 1527.48,729.97 1539.66,728.84" fill="#800000"/>
<text x="1631.8" y="757.0" font-size="65.5" letter-spacing="-1.4">Ph</text>
<polygon points="1544.50,794.90 1561.24,807.06 1554.85,826.74 1534.15,826.74 1527.76,807.06" fill="#808000"/>
<text x="1631.8" y="834.0" font-size="65.5" letter-spacing="-1.4">Xylenol</text>
<circle cx="1544.50" cy="888.00" r="15" fill="#2C63A5"/><circle cx="1540.50" cy="883.50" r="7.8" fill="#8FA9D0"/><circle cx="1540.50" cy="883.50" r="5.3" fill="#C3D2E7"/><circle cx="1540.50" cy="883.50" r="3" fill="#FAFCFE"/>
<text x="1631.8" y="909.5" font-size="65.5" letter-spacing="-1.4">DMB</text>
<path d="M1530.00 964.50H1559.00M1544.50 950.00V979.00" stroke="#16918F" stroke-width="3" fill="none"/>
<text x="1631.8" y="986.0" font-size="65.5" letter-spacing="-1.4" clip-path="url(#clip0)">C<tspan font-size="42" dy="16.6">14</tspan><tspan dy="-16.6">O</tspan></text>
<g>
<path d="M410.10 1871.20H442.70M426.40 1854.90V1887.50M411.40 1856.20L441.40 1886.20M411.40 1886.20L441.40 1856.20" stroke="#98621B" stroke-width="3" fill="none"/>
<path d="M566.60 2169.50H599.20M582.90 2153.20V2185.80M567.90 2154.50L597.90 2184.50M567.90 2184.50L597.90 2154.50" stroke="#98621B" stroke-width="3" fill="none"/>
<path d="M723.10 2390.40H755.70M739.40 2374.10V2406.70M724.40 2375.40L754.40 2405.40M724.40 2405.40L754.40 2375.40" stroke="#98621B" stroke-width="3" fill="none"/>
<path d="M879.60 2540.30H912.20M895.90 2524.00V2556.60M880.90 2525.30L910.90 2555.30M880.90 2555.30L910.90 2525.30" stroke="#98621B" stroke-width="3" fill="none"/>
<path d="M1036.10 2548.00H1068.70M1052.40 2531.70V2564.30M1037.40 2533.00L1067.40 2563.00M1037.40 2563.00L1067.40 2533.00" stroke="#98621B" stroke-width="3" fill="none"/>
<path d="M1192.60 2595.00H1225.20M1208.90 2578.70V2611.30M1193.90 2580.00L1223.90 2610.00M1193.90 2610.00L1223.90 2580.00" stroke="#98621B" stroke-width="3" fill="none"/>
<path d="M1349.10 2661.30H1381.70M1365.40 2645.00V2677.60M1350.40 2646.30L1380.40 2676.30M1350.40 2676.30L1380.40 2646.30" stroke="#98621B" stroke-width="3" fill="none"/>
<path d="M1505.60 2687.30H1538.20M1521.90 2671.00V2703.60M1506.90 2672.30L1536.90 2702.30M1506.90 2702.30L1536.90 2672.30" stroke="#98621B" stroke-width="3" fill="none"/>
<path d="M1662.10 2674.40H1694.70M1678.40 2658.10V2690.70M1663.40 2659.40L1693.40 2689.40M1663.40 2689.40L1693.40 2659.40" stroke="#98621B" stroke-width="3" fill="none"/>
<path d="M1818.60 2711.00H1851.20M1834.90 2694.70V2727.30M1819.90 2696.00L1849.90 2726.00M1819.90 2726.00L1849.90 2696.00" stroke="#98621B" stroke-width="3" fill="none"/>
<rect x="412.60" y="2863.80" width="27.6" height="27.6" fill="#000000"/>
<rect x="569.10" y="2865.00" width="27.6" height="27.6" fill="#000000"/>
<rect x="725.60" y="2870.20" width="27.6" height="27.6" fill="#000000"/>
<rect x="882.10" y="2871.20" width="27.6" height="27.6" fill="#000000"/>
<rect x="1038.60" y="2871.20" width="27.6" height="27.6" fill="#000000"/>
<rect x="1195.10" y="2871.20" width="27.6" height="27.6" fill="#000000"/>
<rect x="1351.60" y="2871.20" width="27.6" height="27.6" fill="#000000"/>
<rect x="1508.10" y="2871.20" width="27.6" height="27.6" fill="#000000"/>
<rect x="1664.60" y="2871.20" width="27.6" height="27.6" fill="#000000"/>
<rect x="1821.10" y="2871.20" width="27.6" height="27.6" fill="#000000"/>
<circle cx="426.40" cy="2884.00" r="15" fill="#FF0000"/>
<circle cx="582.90" cy="2884.00" r="15" fill="#FF0000"/>
<circle cx="739.40" cy="2884.00" r="15" fill="#FF0000"/>
<circle cx="895.90" cy="2884.00" r="15" fill="#FF0000"/>
<circle cx="1052.40" cy="2884.00" r="15" fill="#FF0000"/>
<circle cx="1208.90" cy="2884.00" r="15" fill="#FF0000"/>
<circle cx="1365.40" cy="2884.00" r="15" fill="#FF0000"/>
<circle cx="1521.90" cy="2884.00" r="15" fill="#FF0000"/>
<circle cx="1678.40" cy="2884.00" r="15" fill="#FF0000"/>
<circle cx="1834.90" cy="2884.00" r="15" fill="#FF0000"/>
<polygon points="426.40,2831.20 444.33,2862.25 408.47,2862.25" fill="#0000FF"/>
<polygon points="582.90,2846.90 600.83,2877.95 564.97,2877.95" fill="#0000FF"/>
<polygon points="739.40,2859.30 757.33,2890.35 721.47,2890.35" fill="#0000FF"/>
<polygon points="895.90,2861.30 913.83,2892.35 877.97,2892.35" fill="#0000FF"/>
<polygon points="1052.40,2862.30 1070.33,2893.35 1034.47,2893.35" fill="#0000FF"/>
<polygon points="1208.90,2863.30 1226.83,2894.35 1190.97,2894.35" fill="#0000FF"/>
<polygon points="1365.40,2863.30 1383.33,2894.35 1347.47,2894.35" fill="#0000FF"/>
<polygon points="1521.90,2863.30 1539.83,2894.35 1503.97,2894.35" fill="#0000FF"/>
<polygon points="1678.40,2863.30 1696.33,2894.35 1660.47,2894.35" fill="#0000FF"/>
<polygon points="1834.90,2863.30 1852.83,2894.35 1816.97,2894.35" fill="#0000FF"/>
<polygon points="426.40,2161.20 408.47,2130.15 444.33,2130.15" fill="#FF00FF"/>
<polygon points="582.90,2407.70 564.97,2376.65 600.83,2376.65" fill="#FF00FF"/>
<polygon points="739.40,2581.70 721.47,2550.65 757.33,2550.65" fill="#FF00FF"/>
<polygon points="895.90,2691.10 877.97,2660.05 913.83,2660.05" fill="#FF00FF"/>
<polygon points="1052.40,2700.20 1034.47,2669.15 1070.33,2669.15" fill="#FF00FF"/>
<polygon points="1208.90,2732.40 1190.97,2701.35 1226.83,2701.35" fill="#FF00FF"/>
<polygon points="1365.40,2775.50 1347.47,2744.45 1383.33,2744.45" fill="#FF00FF"/>
<polygon points="1521.90,2794.50 1503.97,2763.45 1539.83,2763.45" fill="#FF00FF"/>
<polygon points="1678.40,2788.20 1660.47,2757.15 1696.33,2757.15" fill="#FF00FF"/>
<polygon points="1834.90,2791.50 1816.97,2760.45 1852.83,2760.45" fill="#FF00FF"/>
<polygon points="426.40,2865.70 445.70,2885.00 426.40,2904.30 407.10,2885.00" fill="#008000"/>
<polygon points="582.90,2865.70 602.20,2885.00 582.90,2904.30 563.60,2885.00" fill="#008000"/>
<polygon points="739.40,2865.70 758.70,2885.00 739.40,2904.30 720.10,2885.00" fill="#008000"/>
<polygon points="895.90,2865.70 915.20,2885.00 895.90,2904.30 876.60,2885.00" fill="#008000"/>
<polygon points="1052.40,2865.70 1071.70,2885.00 1052.40,2904.30 1033.10,2885.00" fill="#008000"/>
<polygon points="1208.90,2865.70 1228.20,2885.00 1208.90,2904.30 1189.60,2885.00" fill="#008000"/>
<polygon points="1365.40,2865.70 1384.70,2885.00 1365.40,2904.30 1346.10,2885.00" fill="#008000"/>
<polygon points="1521.90,2865.70 1541.20,2885.00 1521.90,2904.30 1502.60,2885.00" fill="#008000"/>
<polygon points="1678.40,2865.70 1697.70,2885.00 1678.40,2904.30 1659.10,2885.00" fill="#008000"/>
<polygon points="1834.90,2865.70 1854.20,2885.00 1834.90,2904.30 1815.60,2885.00" fill="#008000"/>
<polygon points="405.70,2885.00 436.75,2867.07 436.75,2902.93" fill="#000080"/>
<polygon points="562.20,2885.00 593.25,2867.07 593.25,2902.93" fill="#000080"/>
<polygon points="718.70,2885.00 749.75,2867.07 749.75,2902.93" fill="#000080"/>
<polygon points="875.20,2885.00 906.25,2867.07 906.25,2902.93" fill="#000080"/>
<polygon points="1031.70,2885.00 1062.75,2867.07 1062.75,2902.93" fill="#000080"/>
<polygon points="1188.20,2885.00 1219.25,2867.07 1219.25,2902.93" fill="#000080"/>
<polygon points="1344.70,2885.00 1375.75,2867.07 1375.75,2902.93" fill="#000080"/>
<polygon points="1501.20,2885.00 1532.25,2867.07 1532.25,2902.93" fill="#000080"/>
<polygon points="1657.70,2885.00 1688.75,2867.07 1688.75,2902.93" fill="#000080"/>
<polygon points="1814.20,2885.00 1845.25,2867.07 1845.25,2902.93" fill="#000080"/>
<polygon points="447.10,2885.00 416.05,2902.93 416.05,2867.07" fill="#8000FF"/>
<polygon points="603.60,2885.00 572.55,2902.93 572.55,2867.07" fill="#8000FF"/>
<polygon points="760.10,2885.00 729.05,2902.93 729.05,2867.07" fill="#8000FF"/>
<polygon points="916.60,2885.00 885.55,2902.93 885.55,2867.07" fill="#8000FF"/>
<polygon points="1073.10,2885.00 1042.05,2902.93 1042.05,2867.07" fill="#8000FF"/>
<polygon points="1229.60,2885.00 1198.55,2902.93 1198.55,2867.07" fill="#8000FF"/>
<polygon points="1386.10,2885.00 1355.05,2902.93 1355.05,2867.07" fill="#8000FF"/>
<polygon points="1542.60,2885.00 1511.55,2902.93 1511.55,2867.07" fill="#8000FF"/>
<polygon points="1699.10,2885.00 1668.05,2902.93 1668.05,2867.07" fill="#8000FF"/>
<polygon points="1855.60,2885.00 1824.55,2902.93 1824.55,2867.07" fill="#8000FF"/>
<polygon points="426.40,2861.50 440.69,2869.75 440.69,2886.25 426.40,2894.50 412.11,2886.25 412.11,2869.75" fill="#800080"/>
<polygon points="582.90,2861.50 597.19,2869.75 597.19,2886.25 582.90,2894.50 568.61,2886.25 568.61,2869.75" fill="#800080"/>
<polygon points="739.40,2861.50 753.69,2869.75 753.69,2886.25 739.40,2894.50 725.11,2886.25 725.11,2869.75" fill="#800080"/>
<polygon points="895.90,2861.50 910.19,2869.75 910.19,2886.25 895.90,2894.50 881.61,2886.25 881.61,2869.75" fill="#800080"/>
<polygon points="1052.40,2861.50 1066.69,2869.75 1066.69,2886.25 1052.40,2894.50 1038.11,2886.25 1038.11,2869.75" fill="#800080"/>
<polygon points="1208.90,2861.50 1223.19,2869.75 1223.19,2886.25 1208.90,2894.50 1194.61,2886.25 1194.61,2869.75" fill="#800080"/>
<polygon points="1365.40,2861.50 1379.69,2869.75 1379.69,2886.25 1365.40,2894.50 1351.11,2886.25 1351.11,2869.75" fill="#800080"/>
<polygon points="1521.90,2861.50 1536.19,2869.75 1536.19,2886.25 1521.90,2894.50 1507.61,2886.25 1507.61,2869.75" fill="#800080"/>
<polygon points="1678.40,2861.50 1692.69,2869.75 1692.69,2886.25 1678.40,2894.50 1664.11,2886.25 1664.11,2869.75" fill="#800080"/>
<polygon points="1834.90,2861.50 1849.19,2869.75 1849.19,2886.25 1834.90,2894.50 1820.61,2886.25 1820.61,2869.75" fill="#800080"/>
<polygon points="426.40,2831.10 431.24,2842.34 443.42,2843.47 434.23,2851.54 436.92,2863.48 426.40,2857.23 415.88,2863.48 418.57,2851.54 409.38,2843.47 421.56,2842.34" fill="#800000"/>
<polygon points="582.90,2812.60 587.74,2823.84 599.92,2824.97 590.73,2833.04 593.42,2844.98 582.90,2838.73 572.38,2844.98 575.07,2833.04 565.88,2824.97 578.06,2823.84" fill="#800000"/>
<polygon points="739.40,2822.60 744.24,2833.84 756.42,2834.97 747.23,2843.04 749.92,2854.98 739.40,2848.73 728.88,2854.98 731.57,2843.04 722.38,2834.97 734.56,2833.84" fill="#800000"/>
<polygon points="895.90,2824.50 900.74,2835.74 912.92,2836.87 903.73,2844.94 906.42,2856.88 895.90,2850.63 885.38,2856.88 888.07,2844.94 878.88,2836.87 891.06,2835.74" fill="#800000"/>
<polygon points="1052.40,2824.50 1057.24,2835.74 1069.42,2836.87 1060.23,2844.94 1062.92,2856.88 1052.40,2850.63 1041.88,2856.88 1044.57,2844.94 1035.38,2836.87 1047.56,2835.74" fill="#800000"/>
<polygon points="1208.90,2826.20 1213.74,2837.44 1225.92,2838.57 1216.73,2846.64 1219.42,2858.58 1208.90,2852.33 1198.38,2858.58 1201.07,2846.64 1191.88,2838.57 1204.06,2837.44" fill="#800000"/>
<polygon points="1365.40,2832.60 1370.24,2843.84 1382.42,2844.97 1373.23,2853.04 1375.92,2864.98 1365.40,2858.73 1354.88,2864.98 1357.57,2853.04 1348.38,2844.97 1360.56,2843.84" fill="#800000"/>
<polygon points="1521.90,2838.50 1526.74,2849.74 1538.92,2850.87 1529.73,2858.94 1532.42,2870.88 1521.90,2864.63 1511.38,2870.88 1514.07,2858.94 1504.88,2850.87 1517.06,2849.74" fill="#800000"/>
<polygon points="1678.40,2837.90 1683.24,2849.14 1695.42,2850.27 1686.23,2858.34 1688.92,2870.28 1678.40,2864.03 1667.88,2870.28 1670.57,2858.34 1661.38,2850.27 1673.56,2849.14" fill="#800000"/>
<polygon points="1834.90,2849.10 1839.74,2860.34 1851.92,2861.47 1842.73,2869.54 1845.42,2881.48 1834.90,2875.23 1824.38,2881.48 1827.07,2869.54 1817.88,2861.47 1830.06,2860.34" fill="#800000"/>
<polygon points="426.40,2767.90 443.14,2780.06 436.75,2799.74 416.05,2799.74 409.66,2780.06" fill="#808000"/>
<polygon points="582.90,2804.70 599.64,2816.86 593.25,2836.54 572.55,2836.54 566.16,2816.86" fill="#808000"/>
<polygon points="739.40,2829.00 756.14,2841.16 749.75,2860.84 729.05,2860.84 722.66,2841.16" fill="#808000"/>
<polygon points="895.90,2840.40 912.64,2852.56 906.25,2872.24 885.55,2872.24 879.16,2852.56" fill="#808000"/>
<polygon points="1052.40,2847.40 1069.14,2859.56 1062.75,2879.24 1042.05,2879.24 1035.66,2859.56" fill="#808000"/>
<polygon points="1208.90,2850.40 1225.64,2862.56 1219.25,2882.24 1198.55,2882.24 1192.16,2862.56" fill="#808000"/>
<polygon points="1365.40,2854.40 1382.14,2866.56 1375.75,2886.24 1355.05,2886.24 1348.66,2866.56" fill="#808000"/>
<polygon points="1521.90,2856.40 1538.64,2868.56 1532.25,2888.24 1511.55,2888.24 1505.16,2868.56" fill="#808000"/>
<polygon points="1678.40,2857.40 1695.14,2869.56 1688.75,2889.24 1668.05,2889.24 1661.66,2869.56" fill="#808000"/>
<polygon points="1834.90,2858.40 1851.64,2870.56 1845.25,2890.24 1824.55,2890.24 1818.16,2870.56" fill="#808000"/>
<circle cx="426.40" cy="2807.10" r="15" fill="#2C63A5"/><circle cx="422.40" cy="2802.60" r="7.8" fill="#8FA9D0"/><circle cx="422.40" cy="2802.60" r="5.3" fill="#C3D2E7"/><circle cx="422.40" cy="2802.60" r="3" fill="#FAFCFE"/>
<circle cx="582.90" cy="2828.20" r="15" fill="#2C63A5"/><circle cx="578.90" cy="2823.70" r="7.8" fill="#8FA9D0"/><circle cx="578.90" cy="2823.70" r="5.3" fill="#C3D2E7"/><circle cx="578.90" cy="2823.70" r="3" fill="#FAFCFE"/>
<circle cx="739.40" cy="2837.20" r="15" fill="#2C63A5"/><circle cx="735.40" cy="2832.70" r="7.8" fill="#8FA9D0"/><circle cx="735.40" cy="2832.70" r="5.3" fill="#C3D2E7"/><circle cx="735.40" cy="2832.70" r="3" fill="#FAFCFE"/>
<circle cx="895.90" cy="2853.90" r="15" fill="#2C63A5"/><circle cx="891.90" cy="2849.40" r="7.8" fill="#8FA9D0"/><circle cx="891.90" cy="2849.40" r="5.3" fill="#C3D2E7"/><circle cx="891.90" cy="2849.40" r="3" fill="#FAFCFE"/>
<circle cx="1052.40" cy="2856.80" r="15" fill="#2C63A5"/><circle cx="1048.40" cy="2852.30" r="7.8" fill="#8FA9D0"/><circle cx="1048.40" cy="2852.30" r="5.3" fill="#C3D2E7"/><circle cx="1048.40" cy="2852.30" r="3" fill="#FAFCFE"/>
<circle cx="1208.90" cy="2861.20" r="15" fill="#2C63A5"/><circle cx="1204.90" cy="2856.70" r="7.8" fill="#8FA9D0"/><circle cx="1204.90" cy="2856.70" r="5.3" fill="#C3D2E7"/><circle cx="1204.90" cy="2856.70" r="3" fill="#FAFCFE"/>
<circle cx="1365.40" cy="2869.10" r="15" fill="#2C63A5"/><circle cx="1361.40" cy="2864.60" r="7.8" fill="#8FA9D0"/><circle cx="1361.40" cy="2864.60" r="5.3" fill="#C3D2E7"/><circle cx="1361.40" cy="2864.60" r="3" fill="#FAFCFE"/>
<circle cx="1521.90" cy="2870.00" r="15" fill="#2C63A5"/><circle cx="1517.90" cy="2865.50" r="7.8" fill="#8FA9D0"/><circle cx="1517.90" cy="2865.50" r="5.3" fill="#C3D2E7"/><circle cx="1517.90" cy="2865.50" r="3" fill="#FAFCFE"/>
<circle cx="1678.40" cy="2870.00" r="15" fill="#2C63A5"/><circle cx="1674.40" cy="2865.50" r="7.8" fill="#8FA9D0"/><circle cx="1674.40" cy="2865.50" r="5.3" fill="#C3D2E7"/><circle cx="1674.40" cy="2865.50" r="3" fill="#FAFCFE"/>
<circle cx="1834.90" cy="2870.80" r="15" fill="#2C63A5"/><circle cx="1830.90" cy="2866.30" r="7.8" fill="#8FA9D0"/><circle cx="1830.90" cy="2866.30" r="5.3" fill="#C3D2E7"/><circle cx="1830.90" cy="2866.30" r="3" fill="#FAFCFE"/>
<path d="M411.90 2881.80H440.90M426.40 2867.30V2896.30" stroke="#16918F" stroke-width="3" fill="none"/>
<path d="M568.40 2879.40H597.40M582.90 2864.90V2893.90" stroke="#16918F" stroke-width="3" fill="none"/>
<path d="M724.90 2872.00H753.90M739.40 2857.50V2886.50" stroke="#16918F" stroke-width="3" fill="none"/>
<path d="M881.40 2868.00H910.40M895.90 2853.50V2882.50" stroke="#16918F" stroke-width="3" fill="none"/>
<path d="M1037.90 2865.10H1066.90M1052.40 2850.60V2879.60" stroke="#16918F" stroke-width="3" fill="none"/>
<path d="M1194.40 2866.00H1223.40M1208.90 2851.50V2880.50" stroke="#16918F" stroke-width="3" fill="none"/>
<path d="M1350.90 2866.00H1379.90M1365.40 2851.50V2880.50" stroke="#16918F" stroke-width="3" fill="none"/>
<path d="M1507.40 2866.00H1536.40M1521.90 2851.50V2880.50" stroke="#16918F" stroke-width="3" fill="none"/>
<path d="M1663.90 2866.00H1692.90M1678.40 2851.50V2880.50" stroke="#16918F" stroke-width="3" fill="none"/>
<path d="M1820.40 2875.00H1849.40M1834.90 2860.50V2889.50" stroke="#16918F" stroke-width="3" fill="none"/>
<g fill="none" stroke-width="2.0" stroke-linejoin="round" stroke-linecap="butt" shape-rendering="crispEdges">
<path d="M426.40 1833.90 L438.14 1888.01 L449.88 1935.95 L461.61 1978.77 L473.35 2017.27 L485.09 2052.11 L496.82 2083.81 L508.56 2112.78 L520.30 2139.39 L532.04 2163.93 L543.77 2186.63 L555.51 2207.71 L567.25 2227.34 L578.99 2245.67 L590.72 2262.83 L602.46 2278.94 L614.20 2294.09 L625.94 2308.38 L637.67 2321.87 L649.41 2334.64 L661.15 2346.74 L672.89 2358.23 L684.62 2369.15 L696.36 2379.55 L708.10 2389.46 L719.84 2398.93 L731.58 2407.98 L743.31 2416.64 L755.05 2424.93 L766.79 2432.88 L778.52 2440.52 L790.26 2447.85 L802.00 2454.91 L813.74 2461.70 L825.47 2468.24 L837.21 2474.55 L848.95 2480.63 L860.69 2486.50 L872.42 2492.18 L884.16 2497.67 L895.90 2502.97 L907.64 2508.11 L919.38 2513.09 L931.11 2517.91 L942.85 2522.59 L954.59 2527.13 L966.33 2531.54 L978.06 2535.82 L989.80 2539.98 L1001.54 2544.02 L1013.27 2547.95 L1025.01 2551.78 L1036.75 2555.50 L1048.49 2559.13 L1060.22 2562.66 L1071.96 2566.10 L1083.70 2569.46 L1095.44 2572.73 L1107.17 2575.93 L1118.91 2579.05 L1130.65 2582.09 L1142.39 2585.06 L1154.12 2587.97 L1165.86 2590.81 L1177.60 2593.58 L1189.34 2596.30 L1201.08 2598.95 L1212.81 2601.55 L1224.55 2604.09 L1236.29 2606.58 L1248.03 2609.01 L1259.76 2611.40 L1271.50 2613.74 L1283.24 2616.03 L1294.97 2618.27 L1306.71 2620.48 L1318.45 2622.63 L1330.19 2624.75 L1341.92 2626.83 L1353.66 2628.86 L1365.40 2630.86 L1377.14 2632.83 L1388.88 2634.76 L1400.61 2636.65 L1412.35 2638.51 L1424.09 2640.33 L1435.82 2642.13 L1447.56 2643.89 L1459.30 2645.62 L1471.04 2647.33 L1482.78 2649.00 L1494.51 2650.65 L1506.25 2652.27 L1517.99 2653.86 L1529.72 2655.43 L1541.46 2656.97 L1553.20 2658.49 L1564.94 2659.99 L1576.67 2661.46 L1588.41 2662.91 L1600.15 2664.33 L1611.89 2665.74 L1623.62 2667.12 L1635.36 2668.49 L1647.10 2669.83 L1658.84 2671.15 L1670.57 2672.46 L1682.31 2673.74 L1694.05 2675.01 L1705.79 2676.26 L1717.53 2677.49 L1729.26 2678.70 L1741.00 2679.90 L1752.74 2681.08 L1764.47 2682.25 L1776.21 2683.40 L1787.95 2684.53 L1799.69 2685.65 L1811.42 2686.75 L1823.16 2687.84 L1834.90 2688.92" stroke="#98621B"/>
<path d="M426.40 2872.79 L438.14 2873.54 L449.88 2874.19 L461.61 2874.76 L473.35 2875.27 L485.09 2875.72 L496.82 2876.12 L508.56 2876.49 L520.30 2876.82 L532.04 2877.12 L543.77 2877.40 L555.51 2877.65 L567.25 2877.88 L578.99 2878.10 L590.72 2878.30 L602.46 2878.49 L614.20 2878.66 L625.94 2878.82 L637.67 2878.97 L649.41 2879.12 L661.15 2879.25 L672.89 2879.38 L684.62 2879.50 L696.36 2879.61 L708.10 2879.71 L719.84 2879.82 L731.58 2879.91 L743.31 2880.00 L755.05 2880.09 L766.79 2880.17 L778.52 2880.25 L790.26 2880.33 L802.00 2880.40 L813.74 2880.47 L825.47 2880.53 L837.21 2880.60 L848.95 2880.66 L860.69 2880.72 L872.42 2880.77 L884.16 2880.83 L895.90 2880.88 L907.64 2880.93 L919.38 2880.98 L931.11 2881.02 L942.85 2881.07 L954.59 2881.11 L966.33 2881.15 L978.06 2881.20 L989.80 2881.23 L1001.54 2881.27 L1013.27 2881.31 L1025.01 2881.35 L1036.75 2881.38 L1048.49 2881.41 L1060.22 2881.45 L1071.96 2881.48 L1083.70 2881.51 L1095.44 2881.54 L1107.17 2881.57 L1118.91 2881.60 L1130.65 2881.62 L1142.39 2881.65 L1154.12 2881.68 L1165.86 2881.70 L1177.60 2881.73 L1189.34 2881.75 L1201.08 2881.77 L1212.81 2881.80 L1224.55 2881.82 L1236.29 2881.84 L1248.03 2881.86 L1259.76 2881.88 L1271.50 2881.90 L1283.24 2881.92 L1294.97 2881.94 L1306.71 2881.96 L1318.45 2881.98 L1330.19 2882.00 L1341.92 2882.02 L1353.66 2882.03 L1365.40 2882.05 L1377.14 2882.07 L1388.88 2882.08 L1400.61 2882.10 L1412.35 2882.11 L1424.09 2882.13 L1435.82 2882.14 L1447.56 2882.16 L1459.30 2882.17 L1471.04 2882.19 L1482.78 2882.20 L1494.51 2882.21 L1506.25 2882.23 L1517.99 2882.24 L1529.72 2882.25 L1541.46 2882.27 L1553.20 2882.28 L1564.94 2882.29 L1576.67 2882.30 L1588.41 2882.31 L1600.15 2882.33 L1611.89 2882.34 L1623.62 2882.35 L1635.36 2882.36 L1647.10 2882.37 L1658.84 2882.38 L1670.57 2882.39 L1682.31 2882.40 L1694.05 2882.41 L1705.79 2882.42 L1717.53 2882.43 L1729.26 2882.44 L1741.00 2882.45 L1752.74 2882.46 L1764.47 2882.47 L1776.21 2882.48 L1787.95 2882.49 L1799.69 2882.49 L1811.42 2882.50 L1823.16 2882.51 L1834.90 2882.52" stroke="#000000"/>
<path d="M426.40 2881.82 L438.14 2882.24 L449.88 2882.42 L461.61 2882.51 L473.35 2882.55 L485.09 2882.57 L496.82 2882.58 L508.56 2882.59 L520.30 2882.59 L532.04 2882.60 L543.77 2882.60 L555.51 2882.60 L567.25 2882.60 L578.99 2882.60 L590.72 2882.60 L602.46 2882.60 L614.20 2882.60 L625.94 2882.60 L637.67 2882.60 L649.41 2882.60 L661.15 2882.60 L672.89 2882.60 L684.62 2882.60 L696.36 2882.60 L708.10 2882.60 L719.84 2882.60 L731.58 2882.60 L743.31 2882.60 L755.05 2882.60 L766.79 2882.60 L778.52 2882.60 L790.26 2882.60 L802.00 2882.60 L813.74 2882.60 L825.47 2882.60 L837.21 2882.60 L848.95 2882.60 L860.69 2882.60 L872.42 2882.60 L884.16 2882.60 L895.90 2882.60 L907.64 2882.60 L919.38 2882.60 L931.11 2882.60 L942.85 2882.60 L954.59 2882.60 L966.33 2882.60 L978.06 2882.60 L989.80 2882.60 L1001.54 2882.60 L1013.27 2882.60 L1025.01 2882.60 L1036.75 2882.60 L1048.49 2882.60 L1060.22 2882.60 L1071.96 2882.60 L1083.70 2882.60 L1095.44 2882.60 L1107.17 2882.60 L1118.91 2882.60 L1130.65 2882.60 L1142.39 2882.60 L1154.12 2882.60 L1165.86 2882.60 L1177.60 2882.60 L1189.34 2882.60 L1201.08 2882.60 L1212.81 2882.60 L1224.55 2882.60 L1236.29 2882.60 L1248.03 2882.60 L1259.76 2882.60 L1271.50 2882.60 L1283.24 2882.60 L1294.97 2882.60 L1306.71 2882.60 L1318.45 2882.60 L1330.19 2882.60 L1341.92 2882.60 L1353.66 2882.60 L1365.40 2882.60 L1377.14 2882.60 L1388.88 2882.60 L1400.61 2882.60 L1412.35 2882.60 L1424.09 2882.60 L1435.82 2882.60 L1447.56 2882.60 L1459.30 2882.60 L1471.04 2882.60 L1482.78 2882.60 L1494.51 2882.60 L1506.25 2882.60 L1517.99 2882.60 L1529.72 2882.60 L1541.46 2882.60 L1553.20 2882.60 L1564.94 2882.60 L1576.67 2882.60 L1588.41 2882.60 L1600.15 2882.60 L1611.89 2882.60 L1623.62 2882.60 L1635.36 2882.60 L1647.10 2882.60 L1658.84 2882.60 L1670.57 2882.60 L1682.31 2882.60 L1694.05 2882.60 L1705.79 2882.60 L1717.53 2882.60 L1729.26 2882.60 L1741.00 2882.60 L1752.74 2882.60 L1764.47 2882.60 L1776.21 2882.60 L1787.95 2882.60 L1799.69 2882.60 L1811.42 2882.60 L1823.16 2882.60 L1834.90 2882.60" stroke="#FF0000"/>
<path d="M426.40 2849.25 L438.14 2852.43 L449.88 2855.12 L461.61 2857.43 L473.35 2859.43 L485.09 2861.18 L496.82 2862.72 L508.56 2864.08 L520.30 2865.29 L532.04 2866.38 L543.77 2867.36 L555.51 2868.24 L567.25 2869.05 L578.99 2869.78 L590.72 2870.45 L602.46 2871.06 L614.20 2871.63 L625.94 2872.15 L637.67 2872.63 L649.41 2873.08 L661.15 2873.50 L672.89 2873.89 L684.62 2874.25 L696.36 2874.59 L708.10 2874.91 L719.84 2875.21 L731.58 2875.49 L743.31 2875.75 L755.05 2876.00 L766.79 2876.24 L778.52 2876.46 L790.26 2876.67 L802.00 2876.87 L813.74 2877.06 L825.47 2877.25 L837.21 2877.42 L848.95 2877.58 L860.69 2877.74 L872.42 2877.89 L884.16 2878.03 L895.90 2878.17 L907.64 2878.30 L919.38 2878.42 L931.11 2878.54 L942.85 2878.66 L954.59 2878.77 L966.33 2878.87 L978.06 2878.98 L989.80 2879.07 L1001.54 2879.17 L1013.27 2879.26 L1025.01 2879.35 L1036.75 2879.43 L1048.49 2879.51 L1060.22 2879.59 L1071.96 2879.67 L1083.70 2879.74 L1095.44 2879.81 L1107.17 2879.88 L1118.91 2879.95 L1130.65 2880.01 L1142.39 2880.07 L1154.12 2880.13 L1165.86 2880.19 L1177.60 2880.25 L1189.34 2880.30 L1201.08 2880.36 L1212.81 2880.41 L1224.55 2880.46 L1236.29 2880.51 L1248.03 2880.56 L1259.76 2880.60 L1271.50 2880.65 L1283.24 2880.69 L1294.97 2880.73 L1306.71 2880.77 L1318.45 2880.81 L1330.19 2880.85 L1341.92 2880.89 L1353.66 2880.93 L1365.40 2880.97 L1377.14 2881.00 L1388.88 2881.04 L1400.61 2881.07 L1412.35 2881.10 L1424.09 2881.13 L1435.82 2881.17 L1447.56 2881.20 L1459.30 2881.23 L1471.04 2881.26 L1482.78 2881.28 L1494.51 2881.31 L1506.25 2881.34 L1517.99 2881.37 L1529.72 2881.39 L1541.46 2881.42 L1553.20 2881.44 L1564.94 2881.47 L1576.67 2881.49 L1588.41 2881.51 L1600.15 2881.54 L1611.89 2881.56 L1623.62 2881.58 L1635.36 2881.60 L1647.10 2881.63 L1658.84 2881.65 L1670.57 2881.67 L1682.31 2881.69 L1694.05 2881.71 L1705.79 2881.73 L1717.53 2881.74 L1729.26 2881.76 L1741.00 2881.78 L1752.74 2881.80 L1764.47 2881.82 L1776.21 2881.83 L1787.95 2881.85 L1799.69 2881.87 L1811.42 2881.88 L1823.16 2881.90 L1834.90 2881.91" stroke="#0000FF"/>
<path d="M426.40 2114.29 L438.14 2158.93 L449.88 2198.23 L461.61 2233.12 L473.35 2264.32 L485.09 2292.40 L496.82 2317.82 L508.56 2340.95 L520.30 2362.10 L532.04 2381.51 L543.77 2399.40 L555.51 2415.94 L567.25 2431.29 L578.99 2445.57 L590.72 2458.90 L602.46 2471.37 L614.20 2483.06 L625.94 2494.04 L637.67 2504.39 L649.41 2514.14 L661.15 2523.37 L672.89 2532.10 L684.62 2540.38 L696.36 2548.24 L708.10 2555.72 L719.84 2562.85 L731.58 2569.64 L743.31 2576.12 L755.05 2582.32 L766.79 2588.25 L778.52 2593.93 L790.26 2599.38 L802.00 2604.60 L813.74 2609.62 L825.47 2614.45 L837.21 2619.09 L848.95 2623.56 L860.69 2627.87 L872.42 2632.03 L884.16 2636.04 L895.90 2639.92 L907.64 2643.66 L919.38 2647.28 L931.11 2650.78 L942.85 2654.18 L954.59 2657.46 L966.33 2660.64 L978.06 2663.73 L989.80 2666.73 L1001.54 2669.64 L1013.27 2672.46 L1025.01 2675.20 L1036.75 2677.87 L1048.49 2680.47 L1060.22 2682.99 L1071.96 2685.45 L1083.70 2687.84 L1095.44 2690.17 L1107.17 2692.44 L1118.91 2694.65 L1130.65 2696.81 L1142.39 2698.91 L1154.12 2700.97 L1165.86 2702.97 L1177.60 2704.93 L1189.34 2706.84 L1201.08 2708.71 L1212.81 2710.53 L1224.55 2712.32 L1236.29 2714.06 L1248.03 2715.77 L1259.76 2717.44 L1271.50 2719.07 L1283.24 2720.67 L1294.97 2722.23 L1306.71 2723.77 L1318.45 2725.27 L1330.19 2726.74 L1341.92 2728.18 L1353.66 2729.60 L1365.40 2730.98 L1377.14 2732.34 L1388.88 2733.68 L1400.61 2734.99 L1412.35 2736.27 L1424.09 2737.53 L1435.82 2738.77 L1447.56 2739.98 L1459.30 2741.17 L1471.04 2742.34 L1482.78 2743.49 L1494.51 2744.62 L1506.25 2745.73 L1517.99 2746.83 L1529.72 2747.90 L1541.46 2748.95 L1553.20 2749.99 L1564.94 2751.01 L1576.67 2752.01 L1588.41 2753.00 L1600.15 2753.97 L1611.89 2754.93 L1623.62 2755.87 L1635.36 2756.79 L1647.10 2757.71 L1658.84 2758.60 L1670.57 2759.49 L1682.31 2760.36 L1694.05 2761.21 L1705.79 2762.06 L1717.53 2762.89 L1729.26 2763.71 L1741.00 2764.52 L1752.74 2765.31 L1764.47 2766.10 L1776.21 2766.87 L1787.95 2767.64 L1799.69 2768.39 L1811.42 2769.13 L1823.16 2769.86 L1834.90 2770.58" stroke="#FF00FF"/>
<path d="M426.40 2884.68 L438.14 2884.68 L449.88 2884.68 L461.61 2884.68 L473.35 2884.68 L485.09 2884.68 L496.82 2884.67 L508.56 2884.67 L520.30 2884.67 L532.04 2884.67 L543.77 2884.67 L555.51 2884.67 L567.25 2884.67 L578.99 2884.67 L590.72 2884.66 L602.46 2884.66 L614.20 2884.66 L625.94 2884.66 L637.67 2884.66 L649.41 2884.65 L661.15 2884.65 L672.89 2884.65 L684.62 2884.64 L696.36 2884.64 L708.10 2884.64 L719.84 2884.64 L731.58 2884.63 L743.31 2884.63 L755.05 2884.63 L766.79 2884.62 L778.52 2884.62 L790.26 2884.61 L802.00 2884.61 L813.74 2884.61 L825.47 2884.60 L837.21 2884.60 L848.95 2884.59 L860.69 2884.59 L872.42 2884.58 L884.16 2884.58 L895.90 2884.57 L907.64 2884.57 L919.38 2884.56 L931.11 2884.56 L942.85 2884.55 L954.59 2884.54 L966.33 2884.54 L978.06 2884.53 L989.80 2884.53 L1001.54 2884.52 L1013.27 2884.51 L1025.01 2884.50 L1036.75 2884.50 L1048.49 2884.49 L1060.22 2884.48 L1071.96 2884.47 L1083.70 2884.47 L1095.44 2884.46 L1107.17 2884.45 L1118.91 2884.44 L1130.65 2884.43 L1142.39 2884.42 L1154.12 2884.41 L1165.86 2884.41 L1177.60 2884.40 L1189.34 2884.39 L1201.08 2884.38 L1212.81 2884.37 L1224.55 2884.36 L1236.29 2884.34 L1248.03 2884.33 L1259.76 2884.32 L1271.50 2884.31 L1283.24 2884.30 L1294.97 2884.29 L1306.71 2884.28 L1318.45 2884.27 L1330.19 2884.25 L1341.92 2884.24 L1353.66 2884.23 L1365.40 2884.22 L1377.14 2884.20 L1388.88 2884.19 L1400.61 2884.18 L1412.35 2884.16 L1424.09 2884.15 L1435.82 2884.13 L1447.56 2884.12 L1459.30 2884.10 L1471.04 2884.09 L1482.78 2884.07 L1494.51 2884.06 L1506.25 2884.04 L1517.99 2884.03 L1529.72 2884.01 L1541.46 2883.99 L1553.20 2883.98 L1564.94 2883.96 L1576.67 2883.94 L1588.41 2883.93 L1600.15 2883.91 L1611.89 2883.89 L1623.62 2883.87 L1635.36 2883.86 L1647.10 2883.84 L1658.84 2883.82 L1670.57 2883.80 L1682.31 2883.78 L1694.05 2883.76 L1705.79 2883.74 L1717.53 2883.72 L1729.26 2883.70 L1741.00 2883.68 L1752.74 2883.66 L1764.47 2883.64 L1776.21 2883.62 L1787.95 2883.59 L1799.69 2883.57 L1811.42 2883.55 L1823.16 2883.53 L1834.90 2883.50" stroke="#008000"/>
<path d="M426.40 2884.50 L438.14 2884.50 L449.88 2884.50 L461.61 2884.50 L473.35 2884.50 L485.09 2884.50 L496.82 2884.50 L508.56 2884.50 L520.30 2884.50 L532.04 2884.50 L543.77 2884.50 L555.51 2884.50 L567.25 2884.50 L578.99 2884.50 L590.72 2884.50 L602.46 2884.50 L614.20 2884.50 L625.94 2884.50 L637.67 2884.50 L649.41 2884.50 L661.15 2884.50 L672.89 2884.49 L684.62 2884.49 L696.36 2884.49 L708.10 2884.49 L719.84 2884.49 L731.58 2884.49 L743.31 2884.49 L755.05 2884.49 L766.79 2884.49 L778.52 2884.48 L790.26 2884.48 L802.00 2884.48 L813.74 2884.48 L825.47 2884.48 L837.21 2884.48 L848.95 2884.47 L860.69 2884.47 L872.42 2884.47 L884.16 2884.47 L895.90 2884.46 L907.64 2884.46 L919.38 2884.46 L931.11 2884.46 L942.85 2884.45 L954.59 2884.45 L966.33 2884.45 L978.06 2884.44 L989.80 2884.44 L1001.54 2884.43 L1013.27 2884.43 L1025.01 2884.43 L1036.75 2884.42 L1048.49 2884.42 L1060.22 2884.41 L1071.96 2884.41 L1083.70 2884.40 L1095.44 2884.40 L1107.17 2884.39 L1118.91 2884.39 L1130.65 2884.38 L1142.39 2884.38 L1154.12 2884.37 L1165.86 2884.36 L1177.60 2884.36 L1189.34 2884.35 L1201.08 2884.34 L1212.81 2884.34 L1224.55 2884.33 L1236.29 2884.32 L1248.03 2884.31 L1259.76 2884.30 L1271.50 2884.30 L1283.24 2884.29 L1294.97 2884.28 L1306.71 2884.27 L1318.45 2884.26 L1330.19 2884.25 L1341.92 2884.24 L1353.66 2884.23 L1365.40 2884.22 L1377.14 2884.21 L1388.88 2884.20 L1400.61 2884.18 L1412.35 2884.17 L1424.09 2884.16 L1435.82 2884.15 L1447.56 2884.14 L1459.30 2884.12 L1471.04 2884.11 L1482.78 2884.09 L1494.51 2884.08 L1506.25 2884.07 L1517.99 2884.05 L1529.72 2884.04 L1541.46 2884.02 L1553.20 2884.01 L1564.94 2883.99 L1576.67 2883.97 L1588.41 2883.96 L1600.15 2883.94 L1611.89 2883.92 L1623.62 2883.90 L1635.36 2883.88 L1647.10 2883.86 L1658.84 2883.84 L1670.57 2883.82 L1682.31 2883.80 L1694.05 2883.78 L1705.79 2883.76 L1717.53 2883.74 L1729.26 2883.72 L1741.00 2883.70 L1752.74 2883.67 L1764.47 2883.65 L1776.21 2883.63 L1787.95 2883.60 L1799.69 2883.58 L1811.42 2883.55 L1823.16 2883.53 L1834.90 2883.50" stroke="#000080"/>
<path d="M426.40 2884.27 L438.14 2884.27 L449.88 2884.27 L461.61 2884.27 L473.35 2884.27 L485.09 2884.26 L496.82 2884.26 L508.56 2884.26 L520.30 2884.26 L532.04 2884.26 L543.77 2884.26 L555.51 2884.26 L567.25 2884.25 L578.99 2884.25 L590.72 2884.25 L602.46 2884.25 L614.20 2884.24 L625.94 2884.24 L637.67 2884.24 L649.41 2884.24 L661.15 2884.23 L672.89 2884.23 L684.62 2884.23 L696.36 2884.22 L708.10 2884.22 L719.84 2884.22 L731.58 2884.21 L743.31 2884.21 L755.05 2884.20 L766.79 2884.20 L778.52 2884.19 L790.26 2884.19 L802.00 2884.18 L813.74 2884.18 L825.47 2884.17 L837.21 2884.17 L848.95 2884.16 L860.69 2884.15 L872.42 2884.15 L884.16 2884.14 L895.90 2884.14 L907.64 2884.13 L919.38 2884.12 L931.11 2884.11 L942.85 2884.11 L954.59 2884.10 L966.33 2884.09 L978.06 2884.08 L989.80 2884.07 L1001.54 2884.06 L1013.27 2884.06 L1025.01 2884.05 L1036.75 2884.04 L1048.49 2884.03 L1060.22 2884.02 L1071.96 2884.01 L1083.70 2884.00 L1095.44 2883.99 L1107.17 2883.97 L1118.91 2883.96 L1130.65 2883.95 L1142.39 2883.94 L1154.12 2883.93 L1165.86 2883.92 L1177.60 2883.90 L1189.34 2883.89 L1201.08 2883.88 L1212.81 2883.86 L1224.55 2883.85 L1236.29 2883.84 L1248.03 2883.82 L1259.76 2883.81 L1271.50 2883.79 L1283.24 2883.78 L1294.97 2883.76 L1306.71 2883.75 L1318.45 2883.73 L1330.19 2883.71 L1341.92 2883.70 L1353.66 2883.68 L1365.40 2883.66 L1377.14 2883.65 L1388.88 2883.63 L1400.61 2883.61 L1412.35 2883.59 L1424.09 2883.57 L1435.82 2883.55 L1447.56 2883.53 L1459.30 2883.52 L1471.04 2883.50 L1482.78 2883.47 L1494.51 2883.45 L1506.25 2883.43 L1517.99 2883.41 L1529.72 2883.39 L1541.46 2883.37 L1553.20 2883.35 L1564.94 2883.32 L1576.67 2883.30 L1588.41 2883.28 L1600.15 2883.25 L1611.89 2883.23 L1623.62 2883.20 L1635.36 2883.18 L1647.10 2883.15 L1658.84 2883.13 L1670.57 2883.10 L1682.31 2883.08 L1694.05 2883.05 L1705.79 2883.02 L1717.53 2883.00 L1729.26 2882.97 L1741.00 2882.94 L1752.74 2882.91 L1764.47 2882.88 L1776.21 2882.85 L1787.95 2882.82 L1799.69 2882.79 L1811.42 2882.76 L1823.16 2882.73 L1834.90 2882.70" stroke="#8000FF"/>
<path d="M426.40 2879.60 L438.14 2879.65 L449.88 2879.70 L461.61 2879.74 L473.35 2879.77 L485.09 2879.80 L496.82 2879.83 L508.56 2879.85 L520.30 2879.88 L532.04 2879.90 L543.77 2879.91 L555.51 2879.93 L567.25 2879.94 L578.99 2879.96 L590.72 2879.97 L602.46 2879.98 L614.20 2879.99 L625.94 2880.00 L637.67 2880.01 L649.41 2880.02 L661.15 2880.03 L672.89 2880.04 L684.62 2880.05 L696.36 2880.05 L708.10 2880.06 L719.84 2880.07 L731.58 2880.07 L743.31 2880.08 L755.05 2880.08 L766.79 2880.09 L778.52 2880.09 L790.26 2880.10 L802.00 2880.10 L813.74 2880.11 L825.47 2880.11 L837.21 2880.11 L848.95 2880.12 L860.69 2880.12 L872.42 2880.12 L884.16 2880.13 L895.90 2880.13 L907.64 2880.13 L919.38 2880.14 L931.11 2880.14 L942.85 2880.14 L954.59 2880.14 L966.33 2880.15 L978.06 2880.15 L989.80 2880.15 L1001.54 2880.15 L1013.27 2880.15 L1025.01 2880.16 L1036.75 2880.16 L1048.49 2880.16 L1060.22 2880.16 L1071.96 2880.16 L1083.70 2880.17 L1095.44 2880.17 L1107.17 2880.17 L1118.91 2880.17 L1130.65 2880.17 L1142.39 2880.17 L1154.12 2880.17 L1165.86 2880.18 L1177.60 2880.18 L1189.34 2880.18 L1201.08 2880.18 L1212.81 2880.18 L1224.55 2880.18 L1236.29 2880.18 L1248.03 2880.19 L1259.76 2880.19 L1271.50 2880.19 L1283.24 2880.19 L1294.97 2880.19 L1306.71 2880.19 L1318.45 2880.19 L1330.19 2880.19 L1341.92 2880.19 L1353.66 2880.19 L1365.40 2880.20 L1377.14 2880.20 L1388.88 2880.20 L1400.61 2880.20 L1412.35 2880.20 L1424.09 2880.20 L1435.82 2880.20 L1447.56 2880.20 L1459.30 2880.20 L1471.04 2880.20 L1482.78 2880.20 L1494.51 2880.20 L1506.25 2880.20 L1517.99 2880.21 L1529.72 2880.21 L1541.46 2880.21 L1553.20 2880.21 L1564.94 2880.21 L1576.67 2880.21 L1588.41 2880.21 L1600.15 2880.21 L1611.89 2880.21 L1623.62 2880.21 L1635.36 2880.21 L1647.10 2880.21 L1658.84 2880.21 L1670.57 2880.21 L1682.31 2880.21 L1694.05 2880.21 L1705.79 2880.21 L1717.53 2880.22 L1729.26 2880.22 L1741.00 2880.22 L1752.74 2880.22 L1764.47 2880.22 L1776.21 2880.22 L1787.95 2880.22 L1799.69 2880.22 L1811.42 2880.22 L1823.16 2880.22 L1834.90 2880.22" stroke="#800080"/>
<path d="M426.40 2835.45 L438.14 2836.14 L449.88 2836.78 L461.61 2837.36 L473.35 2837.90 L485.09 2838.41 L496.82 2838.88 L508.56 2839.32 L520.30 2839.74 L532.04 2840.13 L543.77 2840.50 L555.51 2840.85 L567.25 2841.19 L578.99 2841.51 L590.72 2841.81 L602.46 2842.10 L614.20 2842.38 L625.94 2842.65 L637.67 2842.90 L649.41 2843.15 L661.15 2843.38 L672.89 2843.61 L684.62 2843.83 L696.36 2844.04 L708.10 2844.25 L719.84 2844.45 L731.58 2844.64 L743.31 2844.83 L755.05 2845.01 L766.79 2845.18 L778.52 2845.35 L790.26 2845.52 L802.00 2845.68 L813.74 2845.83 L825.47 2845.99 L837.21 2846.13 L848.95 2846.28 L860.69 2846.42 L872.42 2846.56 L884.16 2846.69 L895.90 2846.82 L907.64 2846.95 L919.38 2847.08 L931.11 2847.20 L942.85 2847.32 L954.59 2847.43 L966.33 2847.55 L978.06 2847.66 L989.80 2847.77 L1001.54 2847.88 L1013.27 2847.98 L1025.01 2848.09 L1036.75 2848.19 L1048.49 2848.29 L1060.22 2848.39 L1071.96 2848.48 L1083.70 2848.58 L1095.44 2848.67 L1107.17 2848.76 L1118.91 2848.85 L1130.65 2848.94 L1142.39 2849.03 L1154.12 2849.11 L1165.86 2849.19 L1177.60 2849.28 L1189.34 2849.36 L1201.08 2849.44 L1212.81 2849.52 L1224.55 2849.59 L1236.29 2849.67 L1248.03 2849.74 L1259.76 2849.82 L1271.50 2849.89 L1283.24 2849.96 L1294.97 2850.03 L1306.71 2850.10 L1318.45 2850.17 L1330.19 2850.24 L1341.92 2850.31 L1353.66 2850.37 L1365.40 2850.44 L1377.14 2850.50 L1388.88 2850.57 L1400.61 2850.63 L1412.35 2850.69 L1424.09 2850.75 L1435.82 2850.81 L1447.56 2850.87 L1459.30 2850.93 L1471.04 2850.99 L1482.78 2851.05 L1494.51 2851.10 L1506.25 2851.16 L1517.99 2851.21 L1529.72 2851.27 L1541.46 2851.32 L1553.20 2851.38 L1564.94 2851.43 L1576.67 2851.48 L1588.41 2851.53 L1600.15 2851.58 L1611.89 2851.63 L1623.62 2851.68 L1635.36 2851.73 L1647.10 2851.78 L1658.84 2851.83 L1670.57 2851.88 L1682.31 2851.93 L1694.05 2851.97 L1705.79 2852.02 L1717.53 2852.07 L1729.26 2852.11 L1741.00 2852.16 L1752.74 2852.20 L1764.47 2852.25 L1776.21 2852.29 L1787.95 2852.33 L1799.69 2852.38 L1811.42 2852.42 L1823.16 2852.46 L1834.90 2852.50" stroke="#800000"/>
<path d="M426.40 2779.98 L438.14 2787.14 L449.88 2793.37 L461.61 2798.84 L473.35 2803.69 L485.09 2808.02 L496.82 2811.91 L508.56 2815.42 L520.30 2818.60 L532.04 2821.50 L543.77 2824.16 L555.51 2826.60 L567.25 2828.84 L578.99 2830.92 L590.72 2832.85 L602.46 2834.65 L614.20 2836.32 L625.94 2837.89 L637.67 2839.35 L649.41 2840.73 L661.15 2842.03 L672.89 2843.25 L684.62 2844.40 L696.36 2845.49 L708.10 2846.52 L719.84 2847.50 L731.58 2848.43 L743.31 2849.31 L755.05 2850.15 L766.79 2850.96 L778.52 2851.72 L790.26 2852.45 L802.00 2853.15 L813.74 2853.82 L825.47 2854.46 L837.21 2855.08 L848.95 2855.67 L860.69 2856.24 L872.42 2856.78 L884.16 2857.31 L895.90 2857.82 L907.64 2858.30 L919.38 2858.77 L931.11 2859.23 L942.85 2859.66 L954.59 2860.09 L966.33 2860.50 L978.06 2860.89 L989.80 2861.27 L1001.54 2861.65 L1013.27 2862.00 L1025.01 2862.35 L1036.75 2862.69 L1048.49 2863.02 L1060.22 2863.34 L1071.96 2863.64 L1083.70 2863.94 L1095.44 2864.24 L1107.17 2864.52 L1118.91 2864.79 L1130.65 2865.06 L1142.39 2865.32 L1154.12 2865.58 L1165.86 2865.83 L1177.60 2866.07 L1189.34 2866.30 L1201.08 2866.53 L1212.81 2866.76 L1224.55 2866.97 L1236.29 2867.19 L1248.03 2867.39 L1259.76 2867.60 L1271.50 2867.80 L1283.24 2867.99 L1294.97 2868.18 L1306.71 2868.36 L1318.45 2868.55 L1330.19 2868.72 L1341.92 2868.90 L1353.66 2869.07 L1365.40 2869.23 L1377.14 2869.39 L1388.88 2869.55 L1400.61 2869.71 L1412.35 2869.86 L1424.09 2870.01 L1435.82 2870.16 L1447.56 2870.30 L1459.30 2870.44 L1471.04 2870.58 L1482.78 2870.72 L1494.51 2870.85 L1506.25 2870.98 L1517.99 2871.11 L1529.72 2871.24 L1541.46 2871.36 L1553.20 2871.48 L1564.94 2871.60 L1576.67 2871.72 L1588.41 2871.83 L1600.15 2871.94 L1611.89 2872.06 L1623.62 2872.16 L1635.36 2872.27 L1647.10 2872.38 L1658.84 2872.48 L1670.57 2872.58 L1682.31 2872.68 L1694.05 2872.78 L1705.79 2872.88 L1717.53 2872.97 L1729.26 2873.07 L1741.00 2873.16 L1752.74 2873.25 L1764.47 2873.34 L1776.21 2873.43 L1787.95 2873.52 L1799.69 2873.60 L1811.42 2873.69 L1823.16 2873.77 L1834.90 2873.85" stroke="#808000"/>
<path d="M426.40 2803.47 L438.14 2807.53 L449.88 2811.14 L461.61 2814.36 L473.35 2817.26 L485.09 2819.89 L496.82 2822.28 L508.56 2824.47 L520.30 2826.48 L532.04 2828.34 L543.77 2830.06 L555.51 2831.66 L567.25 2833.14 L578.99 2834.54 L590.72 2835.84 L602.46 2837.06 L614.20 2838.21 L625.94 2839.30 L637.67 2840.33 L649.41 2841.30 L661.15 2842.22 L672.89 2843.10 L684.62 2843.93 L696.36 2844.72 L708.10 2845.48 L719.84 2846.20 L731.58 2846.89 L743.31 2847.56 L755.05 2848.19 L766.79 2848.80 L778.52 2849.38 L790.26 2849.94 L802.00 2850.48 L813.74 2851.00 L825.47 2851.51 L837.21 2851.99 L848.95 2852.46 L860.69 2852.91 L872.42 2853.34 L884.16 2853.76 L895.90 2854.17 L907.64 2854.56 L919.38 2854.95 L931.11 2855.32 L942.85 2855.68 L954.59 2856.03 L966.33 2856.37 L978.06 2856.69 L989.80 2857.01 L1001.54 2857.33 L1013.27 2857.63 L1025.01 2857.92 L1036.75 2858.21 L1048.49 2858.49 L1060.22 2858.76 L1071.96 2859.03 L1083.70 2859.29 L1095.44 2859.54 L1107.17 2859.78 L1118.91 2860.03 L1130.65 2860.26 L1142.39 2860.49 L1154.12 2860.71 L1165.86 2860.93 L1177.60 2861.15 L1189.34 2861.36 L1201.08 2861.56 L1212.81 2861.76 L1224.55 2861.96 L1236.29 2862.15 L1248.03 2862.34 L1259.76 2862.53 L1271.50 2862.71 L1283.24 2862.88 L1294.97 2863.06 L1306.71 2863.23 L1318.45 2863.39 L1330.19 2863.56 L1341.92 2863.72 L1353.66 2863.88 L1365.40 2864.03 L1377.14 2864.18 L1388.88 2864.33 L1400.61 2864.48 L1412.35 2864.62 L1424.09 2864.77 L1435.82 2864.91 L1447.56 2865.04 L1459.30 2865.18 L1471.04 2865.31 L1482.78 2865.44 L1494.51 2865.57 L1506.25 2865.69 L1517.99 2865.82 L1529.72 2865.94 L1541.46 2866.06 L1553.20 2866.18 L1564.94 2866.29 L1576.67 2866.41 L1588.41 2866.52 L1600.15 2866.63 L1611.89 2866.74 L1623.62 2866.85 L1635.36 2866.95 L1647.10 2867.06 L1658.84 2867.16 L1670.57 2867.26 L1682.31 2867.36 L1694.05 2867.46 L1705.79 2867.56 L1717.53 2867.65 L1729.26 2867.75 L1741.00 2867.84 L1752.74 2867.93 L1764.47 2868.02 L1776.21 2868.11 L1787.95 2868.20 L1799.69 2868.29 L1811.42 2868.37 L1823.16 2868.46 L1834.90 2868.54" stroke="#2C63A5"/>
<path d="M426.40 2876.34 L438.14 2876.26 L449.88 2876.18 L461.61 2876.10 L473.35 2876.02 L485.09 2875.94 L496.82 2875.86 L508.56 2875.78 L520.30 2875.71 L532.04 2875.63 L543.77 2875.55 L555.51 2875.48 L567.25 2875.40 L578.99 2875.32 L590.72 2875.25 L602.46 2875.17 L614.20 2875.10 L625.94 2875.02 L637.67 2874.95 L649.41 2874.87 L661.15 2874.80 L672.89 2874.73 L684.62 2874.65 L696.36 2874.58 L708.10 2874.51 L719.84 2874.43 L731.58 2874.36 L743.31 2874.29 L755.05 2874.22 L766.79 2874.14 L778.52 2874.07 L790.26 2874.00 L802.00 2873.93 L813.74 2873.86 L825.47 2873.79 L837.21 2873.72 L848.95 2873.65 L860.69 2873.58 L872.42 2873.51 L884.16 2873.44 L895.90 2873.37 L907.64 2873.30 L919.38 2873.23 L931.11 2873.16 L942.85 2873.09 L954.59 2873.02 L966.33 2872.95 L978.06 2872.88 L989.80 2872.81 L1001.54 2872.74 L1013.27 2872.67 L1025.01 2872.60 L1036.75 2872.54 L1048.49 2872.47 L1060.22 2872.40 L1071.96 2872.33 L1083.70 2872.26 L1095.44 2872.20 L1107.17 2872.13 L1118.91 2872.06 L1130.65 2871.99 L1142.39 2871.93 L1154.12 2871.86 L1165.86 2871.79 L1177.60 2871.72 L1189.34 2871.66 L1201.08 2871.59 L1212.81 2871.52 L1224.55 2871.46 L1236.29 2871.39 L1248.03 2871.32 L1259.76 2871.26 L1271.50 2871.19 L1283.24 2871.12 L1294.97 2871.06 L1306.71 2870.99 L1318.45 2870.93 L1330.19 2870.86 L1341.92 2870.80 L1353.66 2870.73 L1365.40 2870.66 L1377.14 2870.60 L1388.88 2870.53 L1400.61 2870.47 L1412.35 2870.40 L1424.09 2870.34 L1435.82 2870.27 L1447.56 2870.21 L1459.30 2870.14 L1471.04 2870.08 L1482.78 2870.01 L1494.51 2869.95 L1506.25 2869.88 L1517.99 2869.82 L1529.72 2869.75 L1541.46 2869.69 L1553.20 2869.62 L1564.94 2869.56 L1576.67 2869.50 L1588.41 2869.43 L1600.15 2869.37 L1611.89 2869.30 L1623.62 2869.24 L1635.36 2869.17 L1647.10 2869.11 L1658.84 2869.05 L1670.57 2868.98 L1682.31 2868.92 L1694.05 2868.86 L1705.79 2868.79 L1717.53 2868.73 L1729.26 2868.67 L1741.00 2868.60 L1752.74 2868.54 L1764.47 2868.48 L1776.21 2868.41 L1787.95 2868.35 L1799.69 2868.29 L1811.42 2868.22 L1823.16 2868.16 L1834.90 2868.10" stroke="#16918F"/>
</g></g>
<g fill="#000">
<rect x="268" y="1646" width="1726" height="6"/>
<rect x="268" y="2906" width="1726" height="6"/>
<rect x="268" y="1646" width="5" height="1287"/>
<rect x="1989" y="1646" width="5" height="1275"/>
<rect x="424" y="2912" width="6" height="9"/>
<rect x="580" y="2912" width="6" height="21"/>
<rect x="737" y="2912" width="6" height="9"/>
<rect x="894" y="2912" width="5" height="21"/>
<rect x="1050" y="2912" width="6" height="9"/>
<rect x="1206" y="2912" width="6" height="21"/>
<rect x="1363" y="2912" width="6" height="9"/>
<rect x="1519" y="2912" width="6" height="21"/>
<rect x="1676" y="2912" width="6" height="9"/>
<rect x="1833" y="2912" width="5" height="21"/>
<rect x="247" y="2882" width="21" height="6"/>
<rect x="259" y="2762" width="9" height="6"/>
<rect x="247" y="2642" width="21" height="6"/>
<rect x="259" y="2522" width="9" height="6"/>
<rect x="247" y="2402" width="21" height="6"/>
<rect x="259" y="2282" width="9" height="6"/>
<rect x="247" y="2162" width="21" height="6"/>
<rect x="259" y="2042" width="9" height="6"/>
<rect x="247" y="1922" width="21" height="6"/>
<rect x="259" y="1802" width="9" height="6"/>
<rect x="247" y="1682" width="21" height="6"/>
<text x="272.0" y="2999.5" font-size="64.5" text-anchor="middle" >0</text>
<text x="584.5" y="2999.5" font-size="64.5" text-anchor="middle" >1</text>
<rect x="568" y="2994" width="14" height="8" fill="#fff"/>
<rect x="588" y="2994" width="14" height="8" fill="#fff"/>
<text x="898.0" y="2999.5" font-size="64.5" text-anchor="middle" >2</text>
<text x="1210.5" y="2999.5" font-size="64.5" text-anchor="middle" >3</text>
<text x="1523.5" y="2999.5" font-size="64.5" text-anchor="middle" >4</text>
<text x="1837.0" y="2999.5" font-size="64.5" text-anchor="middle" >5</text>
<text x="231.0" y="2904" font-size="64.5" text-anchor="end" letter-spacing="-1.2">0</text>
<text x="231.0" y="2664" font-size="64.5" text-anchor="end" letter-spacing="-1.2">20</text>
<text x="231.0" y="2424" font-size="64.5" text-anchor="end" letter-spacing="-1.2">40</text>
<text x="231.0" y="2184" font-size="64.5" text-anchor="end" letter-spacing="-1.2">60</text>
<text x="231.0" y="1944" font-size="64.5" text-anchor="end" letter-spacing="-1.2">80</text>
<text x="231.0" y="1704" font-size="64.5" text-anchor="end" letter-spacing="-1.2">100</text>
<rect x="129" y="1698" width="14" height="8" fill="#fff"/>
<rect x="149" y="1698" width="13" height="8" fill="#fff"/>
</g>
<text x="1129.5" y="3105.5" font-size="68.7" text-anchor="middle" >Time on stream (h)</text>
<text transform="translate(98.8,2277.3) rotate(-90)" font-size="68" text-anchor="middle">Conversion/Yield (%)</text>
<text x="387.2" y="1739" font-size="64" text-anchor="start" >(C)</text>
<path d="M1568.90 1690.30H1601.50M1585.20 1674.00V1706.60M1570.20 1675.30L1600.20 1705.30M1570.20 1705.30L1600.20 1675.30" stroke="#98621B" stroke-width="3" fill="none"/>
<text x="1672.4" y="1711.8" font-size="65.5" letter-spacing="-1.4">Conversion</text>
<rect x="1571.40" y="1754.30" width="27.6" height="27.6" fill="#000000"/>
<text x="1672.4" y="1789.6" font-size="65.5" letter-spacing="-1.4">CH<tspan font-size="42" dy="16.6">4</tspan></text>
<circle cx="1585.20" cy="1858.20" r="15" fill="#FF0000"/>
<text x="1672.4" y="1879.7" font-size="65.5" letter-spacing="-1.4">C<tspan font-size="42" dy="16.6">2</tspan><tspan dy="-16.6">-C</tspan><tspan font-size="42" dy="16.6">6</tspan></text>
<polygon points="1585.20,1928.70 1603.13,1959.75 1567.27,1959.75" fill="#0000FF"/>
<text x="1672.4" y="1970.9" font-size="65.5" letter-spacing="-1.4">Ben</text>
<polygon points="1585.20,2046.00 1567.27,2014.95 1603.13,2014.95" fill="#FF00FF"/>
<text x="1672.4" y="2046.8" font-size="65.5" letter-spacing="-1.4">Tol</text>
<polygon points="1585.20,2084.50 1604.50,2103.80 1585.20,2123.10 1565.90,2103.80" fill="#008000"/>
<text x="1672.4" y="2125.3" font-size="65.5" letter-spacing="-1.4">Xylene</text>
<polygon points="1564.50,2180.60 1595.55,2162.67 1595.55,2198.53" fill="#000080"/>
<text x="1672.4" y="2202.1" font-size="65.5" letter-spacing="-1.4">MCHone</text>
<polygon points="1605.90,2257.40 1574.85,2275.33 1574.85,2239.47" fill="#8000FF"/>
<text x="1672.4" y="2278.9" font-size="65.5" letter-spacing="-1.4">MCHol</text>
<polygon points="1585.20,2318.50 1599.49,2326.75 1599.49,2343.25 1585.20,2351.50 1570.91,2343.25 1570.91,2326.75" fill="#800080"/>
<text x="1672.4" y="2356.5" font-size="65.5" letter-spacing="-1.4">Iso-Crl</text>
<polygon points="1585.20,2394.60 1590.04,2405.84 1602.22,2406.97 1593.03,2415.04 1595.72,2426.98 1585.20,2420.73 1574.68,2426.98 1577.37,2415.04 1568.18,2406.97 1580.36,2405.84" fill="#800000"/>
<text x="1672.4" y="2434.0" font-size="65.5" letter-spacing="-1.4">Ph</text>
<polygon points="1585.20,2472.00 1601.94,2484.16 1595.55,2503.84 1574.85,2503.84 1568.46,2484.16" fill="#808000"/>
<text x="1672.4" y="2511.1" font-size="65.5" letter-spacing="-1.4">Xylenol</text>
<circle cx="1585.20" cy="2566.00" r="15" fill="#2C63A5"/><circle cx="1581.20" cy="2561.50" r="7.8" fill="#8FA9D0"/><circle cx="1581.20" cy="2561.50" r="5.3" fill="#C3D2E7"/><circle cx="1581.20" cy="2561.50" r="3" fill="#FAFCFE"/>
<text x="1672.4" y="2587.5" font-size="65.5" letter-spacing="-1.4">DMB</text>
<path d="M1570.70 2643.70H1599.70M1585.20 2629.20V2658.20" stroke="#16918F" stroke-width="3" fill="none"/>
<text x="1672.4" y="2665.2" font-size="65.5" letter-spacing="-1.4" clip-path="url(#clip1)">C<tspan font-size="42" dy="16.6">14</tspan><tspan dy="-16.6">O</tspan></text>
<defs><clipPath id="clip0"><path clip-rule="evenodd" d="M0 0H2020V3141H0Z M1677 999H1688V1004H1677Z M1692 999H1702V1004H1692Z"/></clipPath><clipPath id="clip1"><path clip-rule="evenodd" d="M0 0H2020V3141H0Z M1719 2678H1728V2683H1719Z M1733 2678H1742V2683H1733Z"/></clipPath></defs>
</svg>
</body></html>
